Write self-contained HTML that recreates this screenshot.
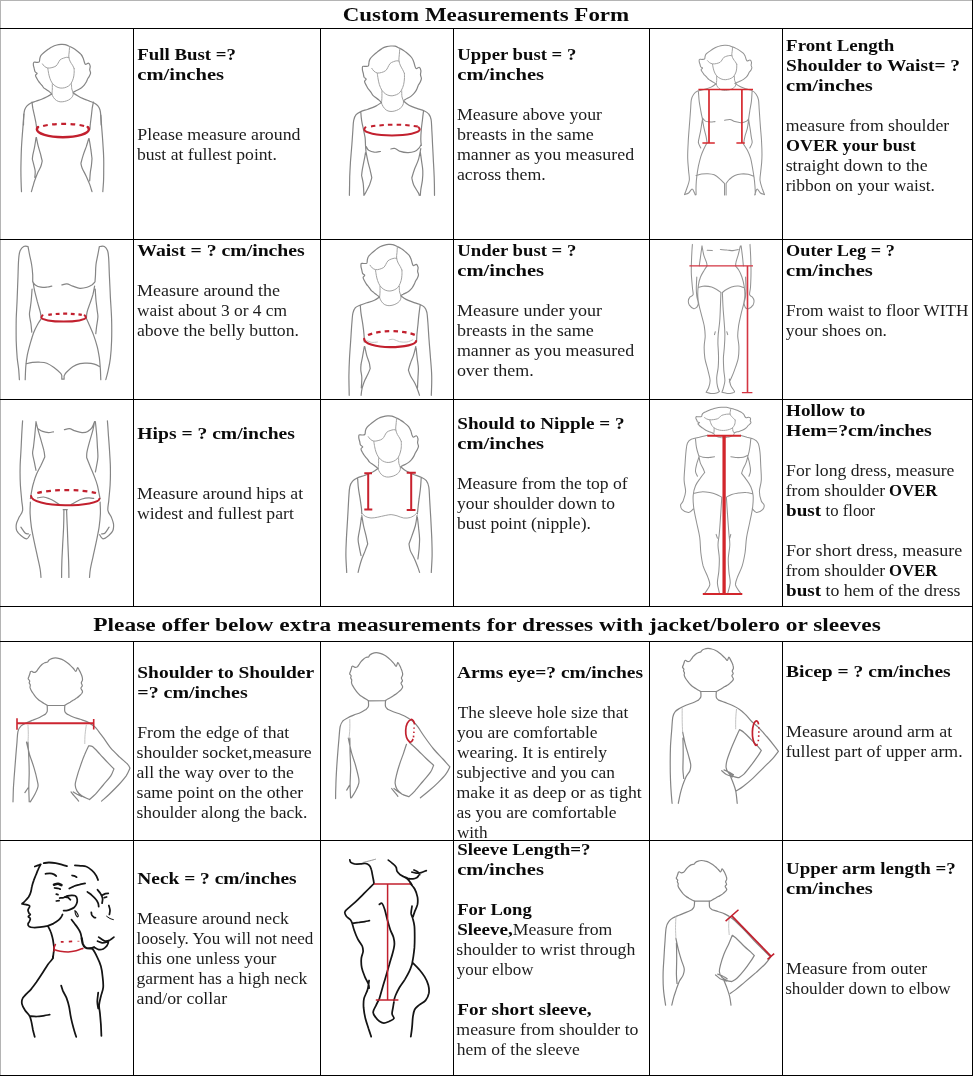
<!DOCTYPE html>
<html lang="en"><head><meta charset="utf-8"><title>Custom Measurements Form</title>
<style>
html,body{margin:0;padding:0;background:#fff;}
body{width:973px;height:1076px;overflow:hidden;}
svg{display:block;}
text{font-family:"Liberation Serif",serif;white-space:pre;}
.r{fill:#1c1c1c;font-weight:400;}
.b{fill:#0a0a0a;font-weight:700;}
.g{fill:none;stroke:#858585;stroke-width:1.2;stroke-linecap:round;stroke-linejoin:round;}
.g2{fill:none;stroke:#c4c4c4;stroke-width:1;stroke-linecap:round;stroke-linejoin:round;}
.g3{fill:none;stroke:#939393;stroke-width:1.05;stroke-linecap:round;stroke-linejoin:round;}
.gi{fill:none;stroke:#a2a2a2;stroke-width:1;stroke-linecap:round;stroke-linejoin:round;}
.k{fill:none;stroke:#141414;stroke-width:1.75;stroke-linecap:round;stroke-linejoin:round;}
.red{fill:none;stroke-linejoin:round;}
</style></head><body>
<svg width="973" height="1076" viewBox="0 0 973 1076">
<rect x="0" y="0" width="973" height="1076" fill="#ffffff"/>
<g stroke="#c2202e">
<path class="g" d="M51.9 93.9C51.5 93.6 50.4 92.6 49.5 91.9C48.6 91.2 47.5 90.5 46.6 89.8C45.6 89.1 44.4 88.5 43.7 87.8C43.0 87.1 42.7 86.3 42.2 85.7C41.7 85.1 41.4 84.8 40.8 84.1C40.3 83.4 39.4 82.5 38.8 81.6C38.1 80.7 37.5 79.7 37.0 78.7C36.4 77.7 35.5 76.3 35.5 75.4C35.5 74.6 37.2 74.0 37.1 73.4C37.1 72.8 35.6 72.6 35.1 71.7C34.6 70.9 34.5 69.5 34.2 68.4C34.0 67.4 33.5 66.2 33.4 65.2C33.3 64.1 33.2 62.8 33.7 62.3C34.1 61.8 35.4 62.4 36.3 62.3C37.2 62.2 38.6 62.5 39.2 61.9C39.8 61.3 39.5 59.6 39.8 58.6C40.0 57.6 40.2 56.7 40.8 55.7C41.5 54.7 42.5 53.8 43.7 52.8C44.9 51.8 46.4 50.6 47.8 49.5C49.3 48.5 50.8 47.4 52.3 46.7C53.8 45.9 55.4 45.4 56.9 45.0C58.3 44.6 59.6 44.5 61.0 44.4C62.3 44.4 63.7 44.3 65.1 44.6C66.4 44.9 67.8 45.6 69.2 46.3C70.6 46.9 71.9 47.5 73.3 48.3C74.7 49.1 76.1 50.2 77.4 51.2C78.7 52.2 80.2 53.3 81.1 54.5C82.1 55.6 82.6 56.9 83.2 58.2C83.7 59.5 84.0 61.3 84.4 62.3C84.8 63.3 84.9 64.2 85.6 64.3C86.3 64.5 87.8 62.8 88.5 63.1C89.3 63.4 90.0 64.9 90.2 66.0C90.4 67.1 89.7 68.5 89.7 69.7C89.8 70.8 90.6 71.9 90.6 73.0C90.5 74.1 89.8 75.3 89.3 76.3C88.9 77.2 88.2 77.8 87.7 78.7C87.2 79.6 87.0 80.6 86.5 81.6C85.9 82.6 85.2 83.9 84.4 84.9C83.6 85.9 82.5 86.9 81.5 87.8C80.5 88.6 79.3 89.3 78.2 89.8C77.2 90.4 76.2 90.6 75.4 91.1C74.5 91.5 73.6 92.1 73.3 92.3"/>
<path class="gi" d="M69.6 46.7C69.5 47.6 69.3 50.2 69.2 52.0C69.0 53.8 68.6 55.7 68.8 57.3C69.0 59.0 69.8 60.6 70.4 61.9C71.0 63.2 71.9 64.1 72.5 65.2C73.1 66.3 73.9 67.9 74.1 68.4M42.5 63.9C42.8 64.3 43.6 65.7 44.5 66.4C45.4 67.1 46.6 67.8 47.8 68.0C49.1 68.2 50.6 68.0 51.9 67.6C53.3 67.3 55.0 66.7 56.0 66.0C57.1 65.2 57.4 64.1 58.1 63.1C58.8 62.1 59.3 60.6 60.1 59.8C61.0 59.0 62.3 58.6 63.4 58.2C64.5 57.8 65.8 57.4 66.7 57.3C67.7 57.2 68.6 57.6 69.0 57.6M47.8 68.4C48.0 69.3 48.3 71.7 48.6 73.4C49.0 75.0 49.3 76.7 49.9 78.3C50.5 80.0 51.3 81.9 52.3 83.2C53.4 84.6 54.7 85.7 56.0 86.5C57.3 87.3 58.8 87.8 60.1 88.0C61.5 88.2 62.9 88.1 64.3 87.8C65.6 87.5 67.2 86.9 68.4 86.1C69.5 85.4 70.4 84.5 71.2 83.2C72.1 81.9 72.8 80.0 73.3 78.3C73.8 76.7 74.0 75.0 74.1 73.4C74.3 71.7 74.1 69.3 74.1 68.4M52.3 83.7C52.3 84.6 52.4 87.3 52.3 89.0C52.3 90.7 52.0 93.1 51.9 93.9M71.5 83.7C71.5 84.6 71.5 87.6 71.8 89.0C72.1 90.4 72.9 91.8 73.1 92.3M51.9 94.3C52.2 94.9 52.8 96.6 53.6 97.6C54.3 98.7 55.4 99.8 56.5 100.5C57.5 101.2 58.8 101.6 60.1 101.8C61.4 101.9 62.9 101.8 64.3 101.5C65.6 101.2 67.1 100.7 68.4 100.1C69.6 99.5 70.9 98.5 71.7 97.6C72.5 96.8 72.9 95.6 73.1 94.8C73.4 93.9 73.1 92.7 73.1 92.3"/>
<path class="g" d="M51.6 94.2C50.9 94.6 49.2 95.7 47.5 96.5C45.8 97.4 43.6 98.4 41.6 99.2C39.7 100.0 37.6 100.5 35.8 101.2C33.9 101.9 32.0 102.4 30.5 103.2C29.0 104.0 28.0 104.8 27.0 105.9C26.0 107.0 25.2 108.3 24.6 110.0C24.1 111.6 24.0 113.3 23.8 115.8C23.6 118.3 23.5 123.5 23.5 125.0M73.3 93.0C74.0 93.5 76.2 94.9 78.0 95.9C79.7 96.9 81.9 98.0 83.8 98.9C85.8 99.7 87.9 100.5 89.7 101.2C91.5 101.9 93.2 102.4 94.6 103.2C96.0 104.0 97.0 104.8 97.9 105.9C98.8 107.0 99.5 108.3 100.0 110.0C100.5 111.6 100.6 113.3 100.8 115.8C101.0 118.3 101.1 123.5 101.2 125.0"/>
<path class="g" d="M23.8 114.1C23.7 115.6 23.5 119.9 23.2 123.4C23.0 126.9 22.6 131.2 22.3 135.1C22.0 139.1 21.7 143.0 21.5 146.9C21.3 150.8 21.2 154.7 21.1 158.6C21.0 162.5 20.9 166.4 20.9 170.3C20.9 174.2 21.0 178.5 21.1 182.0C21.2 185.6 21.4 190.0 21.5 191.6M100.8 115.2C100.9 116.6 101.1 120.1 101.4 123.4C101.6 126.8 102.0 131.2 102.3 135.1C102.6 139.1 102.9 143.0 103.1 146.9C103.4 150.8 103.6 154.7 103.7 158.6C103.8 162.5 103.8 166.4 103.7 170.3C103.7 174.2 103.7 178.5 103.5 182.0C103.3 185.6 102.9 190.0 102.8 191.6M32.0 102.1C32.2 103.1 32.4 105.8 32.8 108.2C33.3 110.6 34.1 113.9 34.6 116.4C35.1 118.9 35.7 121.3 36.0 123.4C36.4 125.6 36.6 128.3 36.7 129.3M36.4 137.5C36.7 138.9 37.4 143.0 38.1 145.7C38.8 148.4 39.8 151.4 40.5 153.9C41.1 156.4 41.9 159.8 42.2 160.9M42.2 160.9C42.0 161.9 41.5 164.7 40.7 166.8C39.9 168.8 38.5 170.9 37.5 173.2C36.5 175.6 35.4 178.6 34.6 180.8C33.8 183.1 33.4 184.9 32.8 186.7C32.3 188.5 31.7 190.8 31.4 191.6M36.0 137.7C35.8 139.3 35.1 144.0 34.6 146.9C34.1 149.8 33.2 153.0 32.8 155.1C32.5 157.1 32.4 158.5 32.3 159.2M32.3 159.2C32.6 160.2 33.5 163.6 34.0 165.6C34.5 167.7 35.1 169.5 35.2 171.5C35.3 173.4 34.9 176.4 34.8 177.3M93.4 102.1C93.2 103.1 92.6 105.8 92.2 108.2C91.9 110.6 91.6 113.9 91.3 116.4C91.0 118.9 90.6 121.3 90.4 123.4C90.1 125.6 90.0 128.3 89.9 129.3M88.7 138.7C88.3 140.0 87.1 144.1 86.2 146.9C85.2 149.6 84.1 152.3 83.2 155.1C82.3 157.8 81.3 161.9 80.9 163.3M80.9 163.3C81.1 164.0 81.2 165.8 82.1 168.0C82.9 170.1 84.9 173.4 86.2 176.2C87.4 178.9 88.7 181.8 89.7 184.4C90.6 186.9 91.6 190.4 92.0 191.6M89.1 138.7C89.4 140.4 90.4 145.9 90.8 149.2C91.3 152.5 91.8 157.0 92.0 158.6M92.0 158.6C91.9 159.8 91.7 163.3 91.4 165.6C91.1 168.0 90.6 170.1 90.3 172.6C90.0 175.2 89.8 179.5 89.7 180.8"/>
<path class="red" stroke-linecap="round" stroke-width="2.5" d="M38.1 127.0Q36.9 128.0 36.9 129.3C36.9 133.7 48.5 137.2 62.9 137.2C77.3 137.2 88.9 133.7 88.9 129.3Q88.9 128.0 87.7 127.0"/>
<path class="red" stroke-width="2.2" stroke-linecap="butt" stroke-dasharray="4.77 4.39" d="M43.1 126.0C53.4 123.2 73.8 123.2 84.1 126.0"/>
<path class="g" d="M381.5 102.5C381.1 102.1 379.9 100.9 379.0 100.1C378.0 99.4 377.0 98.6 376.0 97.8C375.0 97.0 373.8 96.2 373.0 95.4C372.3 94.7 372.0 93.8 371.5 93.1C371.0 92.4 370.7 92.0 370.1 91.2C369.5 90.5 368.6 89.4 367.9 88.4C367.3 87.4 366.6 86.3 366.1 85.1C365.5 84.0 364.5 82.4 364.6 81.4C364.6 80.4 366.3 79.7 366.2 79.0C366.2 78.3 364.6 78.1 364.1 77.2C363.6 76.2 363.6 74.7 363.3 73.4C363.0 72.2 362.5 70.8 362.4 69.7C362.3 68.5 362.2 66.9 362.7 66.4C363.2 65.9 364.4 66.5 365.4 66.4C366.3 66.3 367.8 66.6 368.4 65.9C369.0 65.2 368.7 63.3 369.0 62.2C369.2 61.0 369.4 60.0 370.1 58.9C370.7 57.8 371.8 56.8 373.0 55.6C374.2 54.4 375.8 53.0 377.3 51.9C378.8 50.7 380.4 49.4 381.9 48.6C383.5 47.7 385.1 47.1 386.6 46.7C388.1 46.3 389.4 46.1 390.8 46.0C392.3 46.0 393.7 45.9 395.1 46.2C396.5 46.6 397.9 47.4 399.3 48.1C400.7 48.8 402.1 49.5 403.6 50.4C405.0 51.4 406.4 52.6 407.8 53.7C409.1 54.9 410.6 56.2 411.6 57.5C412.6 58.8 413.2 60.2 413.7 61.7C414.3 63.2 414.6 65.2 415.0 66.4C415.4 67.6 415.6 68.6 416.3 68.7C417.0 68.9 418.5 67.0 419.2 67.3C420.0 67.6 420.7 69.4 420.9 70.6C421.1 71.9 420.4 73.5 420.5 74.8C420.6 76.2 421.4 77.3 421.4 78.6C421.3 79.8 420.6 81.2 420.1 82.3C419.6 83.4 418.9 84.1 418.4 85.1C417.9 86.2 417.7 87.2 417.1 88.4C416.6 89.6 415.9 91.0 415.0 92.2C414.2 93.3 413.1 94.5 412.0 95.4C411.0 96.4 409.7 97.2 408.6 97.8C407.6 98.4 406.5 98.7 405.7 99.2C404.8 99.7 403.9 100.4 403.6 100.6"/>
<path class="gi" d="M399.7 48.6C399.7 49.6 399.5 52.6 399.3 54.7C399.2 56.7 398.7 58.9 398.9 60.8C399.1 62.6 400.0 64.4 400.6 65.9C401.2 67.4 402.1 68.4 402.7 69.7C403.3 70.9 404.1 72.8 404.4 73.4M371.8 68.3C372.1 68.7 373.0 70.3 373.9 71.1C374.8 71.9 376.0 72.7 377.3 73.0C378.5 73.2 380.1 72.9 381.5 72.5C382.9 72.1 384.7 71.5 385.7 70.6C386.8 69.7 387.2 68.5 387.9 67.3C388.6 66.2 389.1 64.5 390.0 63.6C390.9 62.6 392.2 62.2 393.4 61.7C394.5 61.2 395.8 60.9 396.8 60.8C397.7 60.7 398.7 61.0 399.1 61.1M377.3 73.4C377.4 74.4 377.8 77.2 378.1 79.0C378.5 80.9 378.8 82.8 379.4 84.7C380.0 86.5 380.9 88.7 381.9 90.3C383.0 91.9 384.4 93.1 385.7 94.0C387.1 95.0 388.6 95.5 390.0 95.7C391.4 96.0 392.8 95.8 394.2 95.4C395.6 95.1 397.3 94.4 398.5 93.6C399.7 92.7 400.6 91.8 401.4 90.3C402.3 88.8 403.1 86.5 403.6 84.7C404.0 82.8 404.3 80.9 404.4 79.0C404.6 77.2 404.4 74.4 404.4 73.4M381.9 90.8C381.9 91.8 382.0 94.9 381.9 96.9C381.9 98.8 381.6 101.6 381.5 102.5M401.7 90.8C401.7 91.8 401.7 95.2 402.0 96.9C402.3 98.5 403.2 100.0 403.4 100.6M381.5 103.0C381.8 103.6 382.4 105.5 383.2 106.7C384.0 107.9 385.0 109.2 386.2 110.0C387.3 110.8 388.6 111.2 390.0 111.4C391.3 111.6 392.8 111.4 394.2 111.1C395.6 110.8 397.2 110.2 398.5 109.5C399.7 108.8 401.0 107.7 401.9 106.7C402.7 105.7 403.1 104.4 403.4 103.4C403.6 102.4 403.4 101.1 403.4 100.6"/>
<path class="g" d="M381.3 102.6C380.4 103.2 378.0 105.0 375.8 106.1C373.6 107.2 370.4 108.3 367.9 109.2C365.4 110.1 362.8 110.7 360.8 111.6C358.8 112.5 357.2 113.3 356.1 114.7C354.9 116.2 354.2 117.8 353.7 120.3C353.2 122.8 353.2 125.5 352.9 129.7C352.6 134.0 352.2 140.3 351.8 145.5C351.4 150.8 350.9 156.1 350.5 161.3C350.2 166.6 349.9 171.5 349.7 177.1C349.6 182.8 349.5 192.2 349.4 195.3M403.9 101.3C404.7 102.0 406.8 104.1 409.0 105.3C411.1 106.5 414.3 107.5 416.8 108.4C419.3 109.3 422.0 109.9 424.0 110.8C425.9 111.7 427.5 112.5 428.7 114.0C429.9 115.4 430.5 116.8 431.1 119.5C431.6 122.1 431.6 125.4 431.8 129.7C432.1 134.1 432.4 140.3 432.6 145.5C432.9 150.8 433.2 156.1 433.4 161.3C433.7 166.6 434.0 171.5 434.2 177.1C434.4 182.8 434.5 192.2 434.5 195.3M360.8 111.9C360.9 113.3 361.1 117.3 361.6 120.3C362.0 123.2 362.9 126.8 363.5 129.7C364.1 132.6 364.7 135.0 365.1 137.6C365.4 140.3 365.4 143.2 365.5 145.5C365.7 147.9 365.9 150.8 366.0 151.8M366.0 146.3C366.4 147.0 367.3 149.3 368.7 150.3C370.1 151.2 372.2 152.0 374.2 152.2C376.2 152.4 379.5 151.6 380.5 151.5M390.8 149.0C391.5 148.9 393.3 148.0 394.7 148.4C396.2 148.7 397.4 150.3 399.5 151.1C401.6 151.8 404.9 152.6 407.4 152.6C409.9 152.7 412.5 152.3 414.5 151.5C416.5 150.7 418.1 149.2 419.2 147.9C420.3 146.6 420.9 144.6 421.3 144.0M423.5 111.1C423.3 112.6 422.7 117.2 422.4 120.3C422.0 123.4 421.5 126.6 421.3 129.7C421.0 132.9 420.8 136.6 420.8 139.2C420.8 141.8 421.2 144.5 421.3 145.5M366.0 151.8C366.3 153.4 367.2 158.2 367.9 161.3C368.6 164.5 369.6 168.0 370.3 170.8C370.9 173.6 371.6 176.7 371.8 177.9M371.8 177.9C371.4 179.1 370.5 182.5 369.5 185.0C368.4 187.5 366.4 191.2 365.5 192.9C364.6 194.6 364.2 194.9 363.9 195.3M365.5 152.6C365.3 154.1 364.5 158.6 363.9 161.3C363.4 164.1 362.8 166.8 362.4 169.2C362.0 171.6 361.7 174.5 361.6 175.5M361.6 175.5C361.8 176.8 362.8 180.1 363.2 183.4C363.6 186.7 363.8 193.3 363.9 195.3M420.8 148.7C420.4 150.5 419.5 156.3 418.4 159.7C417.4 163.2 415.6 166.2 414.5 169.2C413.4 172.2 412.2 176.5 411.8 177.9M411.8 177.9C412.1 179.1 412.6 182.5 413.7 185.0C414.8 187.5 417.5 191.2 418.4 192.9C419.3 194.6 419.1 194.9 419.2 195.3M420.3 151.8C420.5 153.4 421.2 158.2 421.6 161.3C422.0 164.5 422.7 167.6 422.8 170.8C423.0 174.0 422.7 177.1 422.4 180.3C422.0 183.4 421.1 187.2 420.8 189.7C420.5 192.2 420.4 194.4 420.3 195.3"/>
<path class="red" stroke-linecap="round" stroke-width="2.0" d="M365.5 127.3Q364.3 128.3 364.3 129.6C364.3 132.8 376.7 135.4 392.0 135.4C407.3 135.4 419.7 132.8 419.7 129.6Q419.7 128.3 418.5 127.3"/>
<path class="red" stroke-width="2.0" stroke-linecap="butt" stroke-dasharray="4.46 4.10" d="M371.0 126.6C382.7 124.1 406.1 124.1 417.8 126.6"/>
<path class="g3" d="M716.3 84.3C715.9 84.0 714.8 83.2 714.0 82.6C713.2 82.1 712.2 81.6 711.3 81.0C710.5 80.5 709.4 80.0 708.7 79.4C708.0 78.9 707.8 78.3 707.3 77.8C706.9 77.3 706.6 77.0 706.0 76.5C705.5 76.0 704.7 75.3 704.1 74.6C703.6 73.9 703.0 73.1 702.5 72.3C702.0 71.5 701.1 70.4 701.1 69.7C701.1 69.0 702.7 68.6 702.6 68.1C702.6 67.6 701.2 67.5 700.7 66.8C700.3 66.2 700.2 65.1 700.0 64.2C699.7 63.4 699.3 62.4 699.2 61.6C699.1 60.8 699.0 59.7 699.4 59.4C699.9 59.0 701.0 59.4 701.9 59.4C702.7 59.3 704.0 59.5 704.5 59.0C705.1 58.6 704.8 57.3 705.1 56.5C705.3 55.6 705.4 54.9 706.0 54.2C706.7 53.4 707.6 52.7 708.7 51.9C709.8 51.1 711.2 50.2 712.5 49.3C713.8 48.5 715.3 47.7 716.7 47.1C718.0 46.5 719.5 46.1 720.8 45.8C722.2 45.5 723.4 45.4 724.6 45.3C725.9 45.3 727.1 45.2 728.4 45.5C729.7 45.7 730.9 46.3 732.2 46.8C733.4 47.2 734.7 47.7 736.0 48.4C737.2 49.0 738.6 49.8 739.8 50.6C741.0 51.4 742.3 52.3 743.2 53.2C744.1 54.1 744.6 55.1 745.1 56.1C745.6 57.2 745.8 58.6 746.2 59.4C746.6 60.2 746.7 60.9 747.3 61.0C748.0 61.1 749.3 59.8 750.0 60.0C750.7 60.2 751.3 61.4 751.5 62.3C751.7 63.1 751.1 64.3 751.1 65.2C751.2 66.1 751.9 66.9 751.9 67.8C751.8 68.6 751.2 69.6 750.8 70.4C750.3 71.1 749.7 71.6 749.2 72.3C748.8 73.0 748.6 73.8 748.1 74.6C747.6 75.4 747.0 76.3 746.2 77.2C745.4 78.0 744.5 78.8 743.5 79.4C742.6 80.1 741.5 80.6 740.5 81.0C739.6 81.5 738.6 81.7 737.9 82.0C737.1 82.3 736.3 82.8 736.0 83.0"/>
<path class="gi" d="M732.6 47.1C732.5 47.8 732.3 49.9 732.2 51.3C732.1 52.7 731.6 54.2 731.8 55.5C732.0 56.8 732.8 58.0 733.3 59.0C733.9 60.1 734.6 60.8 735.2 61.6C735.8 62.5 736.5 63.8 736.7 64.2M707.6 60.7C707.9 61.0 708.6 62.1 709.5 62.6C710.3 63.1 711.4 63.7 712.5 63.9C713.6 64.1 715.0 63.8 716.3 63.6C717.5 63.3 719.1 62.9 720.1 62.3C721.0 61.7 721.3 60.8 722.0 60.0C722.6 59.2 723.0 58.1 723.8 57.4C724.7 56.8 725.9 56.5 726.9 56.1C727.9 55.8 729.1 55.6 729.9 55.5C730.8 55.4 731.7 55.7 732.0 55.7M712.5 64.2C712.6 64.9 712.9 66.8 713.2 68.1C713.6 69.4 713.8 70.7 714.4 72.0C714.9 73.3 715.7 74.8 716.7 75.9C717.6 76.9 718.9 77.8 720.1 78.4C721.3 79.1 722.6 79.5 723.8 79.6C725.1 79.8 726.4 79.7 727.6 79.4C728.9 79.2 730.4 78.7 731.4 78.1C732.5 77.5 733.3 76.9 734.1 75.9C734.8 74.8 735.5 73.3 736.0 72.0C736.4 70.7 736.6 69.4 736.7 68.1C736.9 66.8 736.7 64.9 736.7 64.2M716.7 76.2C716.7 76.9 716.7 79.0 716.7 80.4C716.6 81.7 716.3 83.6 716.3 84.3M734.3 76.2C734.4 76.9 734.4 79.3 734.6 80.4C734.9 81.5 735.6 82.5 735.8 83.0M716.3 84.6C716.5 85.0 717.1 86.4 717.8 87.2C718.5 88.0 719.4 88.9 720.4 89.4C721.5 90.0 722.6 90.3 723.8 90.4C725.0 90.5 726.4 90.4 727.6 90.2C728.9 90.0 730.3 89.6 731.4 89.1C732.6 88.6 733.7 87.9 734.5 87.2C735.2 86.5 735.6 85.6 735.8 84.9C736.0 84.2 735.8 83.3 735.8 83.0"/>
<path class="g3" d="M715.8 84.0C715.0 84.5 713.0 86.2 711.1 87.1C709.1 88.1 706.2 88.8 704.0 89.5C701.7 90.2 699.4 90.3 697.6 91.1C695.9 91.9 694.7 92.8 693.7 94.2C692.6 95.7 691.9 97.0 691.3 99.8C690.8 102.5 690.9 106.4 690.5 110.8C690.2 115.3 689.7 121.4 689.3 126.6C688.9 131.9 688.4 137.2 688.2 142.4C687.9 147.7 687.6 153.5 687.7 158.2C687.8 163.0 688.4 167.2 688.6 170.9C688.9 174.5 689.6 177.3 689.3 180.3C688.9 183.4 687.4 186.7 686.6 189.0C685.8 191.4 684.9 193.6 684.5 194.6M684.5 194.6C685.2 194.3 687.4 193.9 688.6 193.0C689.9 192.1 691.1 189.0 692.1 189.0C693.1 189.0 694.0 192.0 694.5 193.0C695.0 194.0 695.1 194.6 695.3 194.9M734.8 83.2C735.6 83.7 737.7 85.4 739.5 86.3C741.4 87.3 743.7 88.0 745.8 88.7C747.9 89.4 750.4 89.7 752.1 90.6C753.9 91.5 755.0 92.7 756.1 94.2C757.2 95.8 757.9 97.0 758.5 99.8C759.0 102.5 758.9 106.4 759.3 110.8C759.6 115.3 760.0 121.4 760.4 126.6C760.8 131.9 761.4 137.2 761.6 142.4C761.9 147.7 762.1 153.5 761.9 158.2C761.8 163.0 761.2 167.2 760.8 170.9C760.5 174.5 759.8 177.3 760.0 180.3C760.3 183.4 761.7 186.7 762.4 189.0C763.2 191.4 764.1 193.6 764.5 194.6M764.5 194.6C763.8 194.3 761.6 193.9 760.4 193.0C759.2 192.1 758.0 189.0 757.2 189.0C756.4 189.0 755.7 192.0 755.3 193.0C754.9 194.0 754.8 194.6 754.7 194.9M698.4 91.6C698.6 93.2 698.8 98.1 699.2 101.4C699.6 104.6 700.3 107.9 700.8 110.8C701.3 113.7 702.1 117.4 702.4 118.7M702.4 118.7C702.6 120.3 703.4 125.3 704.0 128.2C704.6 131.1 705.5 133.7 706.0 136.1C706.5 138.5 706.9 141.6 707.1 142.7M707.1 142.7C706.6 143.7 705.0 146.4 704.0 148.7C702.9 151.1 701.7 153.7 700.8 156.6C699.9 159.5 699.1 163.0 698.4 166.1C697.8 169.3 697.3 172.4 696.9 175.6C696.5 178.8 696.2 181.9 696.1 185.1C695.9 188.2 696.1 193.0 696.1 194.6M702.4 119.5C702.1 121.2 701.3 126.8 700.8 129.8C700.3 132.8 699.6 135.5 699.2 137.7C698.8 139.8 698.2 141.0 698.4 142.7C698.7 144.5 700.4 147.1 700.8 148.0M752.1 91.1C752.0 92.8 751.8 98.1 751.4 101.4C751.0 104.6 750.2 107.9 749.8 110.8C749.3 113.7 748.9 117.4 748.7 118.7M748.7 118.7C748.5 120.3 748.0 125.3 747.4 128.2C746.8 131.1 745.7 133.5 745.0 136.1C744.4 138.7 743.7 142.7 743.5 144.0M743.5 144.0C744.1 145.1 746.2 148.0 747.4 150.3C748.6 152.7 749.7 155.3 750.6 158.2C751.4 161.1 751.9 164.5 752.5 167.7C753.0 170.9 753.6 174.0 754.0 177.2C754.5 180.3 754.8 183.8 755.0 186.7C755.2 189.6 755.3 193.2 755.3 194.6M748.7 119.5C748.9 121.2 749.8 126.8 750.3 129.8C750.7 132.8 751.0 135.5 751.4 137.7C751.7 139.8 752.4 141.0 752.1 142.7C751.9 144.5 750.2 147.1 749.8 148.0M702.4 117.9C702.9 118.5 704.2 120.4 705.5 121.1C706.9 121.8 708.7 121.8 710.3 121.9C711.9 122.0 714.2 121.6 715.0 121.6M724.5 120.3C725.4 120.2 728.3 119.3 730.0 119.5C731.7 119.7 732.9 121.0 734.8 121.6C736.6 122.1 739.1 122.8 741.1 122.7C743.1 122.6 745.4 121.8 746.6 121.1C747.9 120.4 748.3 119.1 748.7 118.7M696.1 175.6C697.0 175.3 699.6 174.3 701.6 174.0C703.6 173.7 705.8 173.6 707.9 173.7C710.0 173.8 712.3 174.0 714.2 174.8C716.2 175.7 718.1 177.3 719.8 178.8C721.5 180.2 723.7 182.7 724.5 183.5M726.1 183.5C726.6 182.8 727.8 180.9 729.2 179.5C730.7 178.2 732.8 176.5 734.8 175.6C736.7 174.7 738.9 174.2 741.1 174.0C743.3 173.8 746.0 173.9 748.2 174.3C750.4 174.7 753.1 176.0 754.0 176.4M724.5 183.5L724.5 194.9M726.1 183.5L726.1 194.9"/>
<path class="red" stroke="#d6282e" stroke-width="1.7" d="M698.4 89.5H753M709 89.5V143M741.9 89.5V143M702.4 143H714.8M736.4 143H744.8"/>
<path class="g" d="M28.0 246.5C27.3 246.5 25.0 245.8 23.7 246.5C22.4 247.2 21.0 248.8 20.1 250.8C19.3 252.8 19.0 254.5 18.7 258.7C18.3 262.9 18.2 269.5 18.0 276.0C17.7 282.5 17.5 290.4 17.2 297.6C17.0 304.8 16.4 312.0 16.2 319.2C16.1 326.4 16.1 334.4 16.2 340.8C16.4 347.3 16.8 353.3 17.2 358.1C17.7 362.9 18.3 366.0 18.7 369.6C19.0 373.2 19.3 378.0 19.4 379.7M28.0 246.5C28.3 247.8 28.9 251.4 29.5 254.4C30.1 257.4 31.1 261.1 31.6 264.5C32.2 267.8 32.5 271.7 32.7 274.6C32.8 277.5 32.7 280.6 32.7 281.8M32.7 281.8C33.1 282.3 33.9 284.0 35.3 284.9C36.6 285.9 39.0 286.9 41.0 287.2C43.1 287.6 45.7 287.2 47.5 287.0C49.3 286.8 51.1 286.2 51.8 286.1M61.9 284.9C62.7 284.8 65.1 283.7 66.9 283.9C68.7 284.1 70.5 285.4 72.7 286.1C74.9 286.8 77.5 288.1 79.9 288.3C82.3 288.4 85.1 287.8 87.1 287.2C89.1 286.6 90.8 285.6 92.2 284.7C93.5 283.7 94.6 282.3 95.0 281.8M33.1 281.8C33.3 283.2 33.8 287.1 34.5 290.4C35.3 293.8 36.5 298.3 37.4 301.9C38.4 305.5 39.6 309.3 40.3 312.0C40.9 314.8 41.1 317.4 41.3 318.5M41.3 318.5C40.8 319.3 39.4 321.3 38.1 323.5C36.9 325.8 35.1 328.8 33.8 332.2C32.5 335.6 31.3 339.9 30.2 343.7C29.1 347.6 28.0 351.6 27.3 355.2C26.6 358.8 26.2 361.2 25.9 365.3C25.5 369.4 25.3 377.3 25.2 379.7M32.1 289.0C31.9 290.9 31.6 297.1 31.2 300.5C30.9 303.9 30.4 306.7 30.1 309.1C29.8 311.5 29.3 312.5 29.5 314.9C29.6 317.3 30.5 320.7 30.9 323.5C31.3 326.4 31.6 330.8 31.8 332.2M100.1 246.5C100.8 246.5 103.1 245.8 104.4 246.5C105.6 247.2 106.8 248.8 107.6 250.8C108.3 252.8 108.4 254.5 108.7 258.7C109.0 262.9 109.1 269.5 109.4 276.0C109.7 282.5 110.1 290.4 110.4 297.6C110.8 304.8 111.4 312.0 111.6 319.2C111.8 326.4 111.8 334.4 111.6 340.8C111.4 347.3 111.0 353.1 110.4 358.1C109.8 363.2 108.8 367.5 108.0 371.1C107.2 374.7 106.2 378.3 105.8 379.7M99.4 246.5C99.1 247.8 98.5 251.4 97.9 254.4C97.4 257.4 96.4 261.1 96.0 264.5C95.6 267.8 95.6 271.7 95.5 274.6C95.3 277.5 95.1 280.6 95.0 281.8M94.6 286.1C94.3 287.5 93.6 291.9 92.9 294.7C92.1 297.6 91.0 300.5 90.0 303.4C89.0 306.3 87.7 309.5 87.1 312.0C86.5 314.5 86.5 317.4 86.4 318.5M86.4 318.5C86.9 319.6 88.1 322.2 89.3 325.0C90.5 327.8 92.3 331.5 93.6 335.1C94.9 338.7 96.2 342.8 97.2 346.6C98.2 350.4 98.8 354.3 99.4 358.1C99.9 362.0 100.1 366.0 100.4 369.6C100.6 373.2 100.7 378.0 100.8 379.7M95.2 289.0C95.3 290.9 95.7 296.9 96.0 300.5C96.4 304.1 96.9 307.8 97.2 310.6C97.5 313.3 98.0 314.4 97.9 317.1C97.8 319.7 97.0 323.7 96.6 326.4C96.3 329.2 95.9 332.4 95.8 333.6M25.9 363.9C27.0 363.6 30.1 362.7 32.4 362.4C34.7 362.2 37.2 362.0 39.6 362.2C42.0 362.3 44.4 362.3 46.8 363.2C49.2 364.1 51.7 365.8 54.0 367.5C56.3 369.2 59.1 371.8 60.5 373.2C61.8 374.7 61.7 375.6 61.9 376.1M64.1 376.1C64.4 375.5 64.8 374.1 66.2 372.5C67.7 371.0 70.4 368.3 72.7 366.8C75.0 365.3 77.5 364.2 79.9 363.6C82.3 363.0 84.7 363.1 87.1 363.2C89.5 363.3 92.2 363.6 94.3 364.2C96.5 364.8 99.1 366.3 100.1 366.8M61.8 376.1L61.8 379.2L64.1 379.2L64.1 376.1"/>
<path class="red" stroke-linecap="round" stroke-width="2.0" d="M42.6 315.3Q41.4 316.3 41.4 317.6C41.4 319.8 51.3 321.6 63.6 321.6C75.9 321.6 85.8 319.8 85.8 317.6Q85.8 316.3 84.6 315.3"/>
<path class="red" stroke-width="2.2" stroke-linecap="butt" stroke-dasharray="3.90 3.59" d="M48.3 314.9C56.7 313.3 73.4 313.3 81.8 314.9"/>
<path class="g" d="M379.6 297.3C379.2 296.9 378.0 295.8 377.1 295.1C376.2 294.3 375.2 293.6 374.2 292.9C373.3 292.1 372.1 291.4 371.4 290.7C370.6 289.9 370.3 289.1 369.9 288.5C369.4 287.8 369.0 287.5 368.5 286.7C367.9 286.0 367.0 285.1 366.4 284.1C365.7 283.1 365.1 282.1 364.6 281.0C364.0 279.9 363.1 278.5 363.1 277.5C363.1 276.6 364.8 276.0 364.7 275.3C364.7 274.7 363.2 274.5 362.7 273.6C362.2 272.7 362.1 271.2 361.8 270.1C361.6 268.9 361.1 267.6 361.0 266.6C360.9 265.5 360.8 264.0 361.3 263.5C361.8 263.0 363.0 263.6 363.9 263.5C364.8 263.4 366.2 263.7 366.8 263.1C367.4 262.4 367.1 260.6 367.4 259.5C367.7 258.4 367.8 257.5 368.5 256.5C369.1 255.4 370.2 254.5 371.4 253.4C372.5 252.3 374.0 251.0 375.5 249.9C376.9 248.8 378.5 247.6 380.0 246.8C381.6 246.0 383.1 245.5 384.6 245.1C386.0 244.7 387.3 244.5 388.7 244.4C390.1 244.4 391.5 244.3 392.8 244.6C394.2 244.9 395.6 245.7 397.0 246.4C398.4 247.0 399.7 247.7 401.1 248.6C402.5 249.4 403.9 250.5 405.2 251.6C406.5 252.7 408.0 253.9 409.0 255.2C409.9 256.4 410.5 257.7 411.0 259.1C411.6 260.5 411.9 262.4 412.3 263.5C412.7 264.6 412.8 265.5 413.5 265.7C414.2 265.8 415.6 264.1 416.4 264.4C417.2 264.7 417.8 266.3 418.1 267.4C418.3 268.6 417.6 270.1 417.6 271.4C417.7 272.6 418.5 273.7 418.5 274.9C418.4 276.1 417.7 277.4 417.2 278.4C416.7 279.4 416.1 280.1 415.6 281.0C415.1 282.0 414.9 283.0 414.3 284.1C413.8 285.2 413.1 286.5 412.3 287.6C411.4 288.7 410.4 289.8 409.4 290.7C408.3 291.6 407.1 292.3 406.1 292.9C405.0 293.5 404.0 293.7 403.2 294.2C402.4 294.6 401.5 295.3 401.1 295.5"/>
<path class="gi" d="M397.4 246.8C397.3 247.8 397.1 250.6 397.0 252.5C396.8 254.4 396.4 256.5 396.6 258.2C396.8 260.0 397.6 261.7 398.2 263.1C398.8 264.4 399.7 265.4 400.3 266.6C400.9 267.7 401.7 269.5 401.9 270.1M370.1 265.2C370.5 265.7 371.3 267.1 372.2 267.9C373.1 268.6 374.3 269.4 375.5 269.6C376.7 269.8 378.2 269.6 379.6 269.2C381.0 268.8 382.7 268.2 383.8 267.4C384.8 266.6 385.1 265.5 385.8 264.4C386.5 263.3 387.0 261.7 387.9 260.9C388.8 260.0 390.1 259.5 391.2 259.1C392.3 258.7 393.6 258.3 394.5 258.2C395.4 258.1 396.4 258.4 396.8 258.5M375.5 270.1C375.6 270.9 376.0 273.6 376.3 275.3C376.7 277.1 376.9 278.8 377.6 280.6C378.2 282.3 379.0 284.4 380.0 285.8C381.1 287.3 382.4 288.5 383.8 289.4C385.1 290.2 386.5 290.7 387.9 290.9C389.3 291.2 390.6 291.0 392.0 290.7C393.4 290.3 395.0 289.7 396.1 288.9C397.3 288.1 398.2 287.2 399.0 285.8C399.9 284.5 400.6 282.3 401.1 280.6C401.6 278.8 401.8 277.1 401.9 275.3C402.1 273.6 401.9 270.9 401.9 270.1M380.0 286.3C380.0 287.2 380.1 290.2 380.0 292.0C380.0 293.8 379.7 296.4 379.6 297.3M399.3 286.3C399.3 287.2 399.3 290.5 399.6 292.0C399.9 293.5 400.7 294.9 400.9 295.5M379.6 297.7C379.9 298.3 380.5 300.1 381.3 301.2C382.0 302.3 383.1 303.5 384.2 304.3C385.3 305.0 386.6 305.4 387.9 305.6C389.2 305.8 390.6 305.6 392.0 305.3C393.4 305.0 394.9 304.5 396.1 303.8C397.4 303.1 398.7 302.2 399.5 301.2C400.3 300.3 400.7 299.1 400.9 298.1C401.2 297.2 400.9 295.9 400.9 295.5"/>
<path class="g" d="M379.5 296.9C378.7 297.5 376.5 299.3 374.4 300.3C372.3 301.3 369.3 302.1 367.0 302.8C364.6 303.6 362.2 304.2 360.3 305.1C358.4 305.9 356.7 306.4 355.4 307.7C354.2 309.1 353.5 310.7 352.9 313.2C352.3 315.7 352.3 318.2 351.9 322.8C351.5 327.4 351.1 334.6 350.7 340.5C350.3 346.5 349.8 352.4 349.5 358.3C349.2 364.2 349.0 369.9 348.9 376.0C348.9 382.2 349.2 392.1 349.2 395.3M401.0 295.9C401.8 296.5 404.2 298.4 406.1 299.4C408.1 300.5 410.6 301.3 412.8 302.1C415.0 302.9 417.5 303.5 419.5 304.3C421.4 305.2 423.4 305.9 424.6 307.3C425.9 308.6 426.3 309.9 426.9 312.5C427.4 315.0 427.5 318.1 427.9 322.8C428.3 327.5 428.6 334.6 429.1 340.5C429.5 346.5 430.1 352.4 430.5 358.3C431.0 364.2 431.6 369.9 431.7 376.0C431.9 382.2 431.4 392.1 431.3 395.3M360.3 305.4C360.4 306.8 360.6 310.8 361.1 313.9C361.5 317.1 362.3 320.8 362.8 324.3C363.3 327.7 363.8 331.7 364.0 334.6C364.3 337.6 364.3 340.8 364.3 342.0M420.2 304.8C420.0 306.3 419.4 310.7 419.0 313.9C418.6 317.2 418.3 320.8 418.0 324.3C417.6 327.7 417.2 331.7 416.9 334.6C416.7 337.6 416.6 340.8 416.5 342.0M364.7 346.5C365.1 347.9 365.9 352.6 366.7 355.3C367.4 358.0 368.6 360.5 369.2 362.7C369.8 364.9 370.0 367.7 370.2 368.6M370.2 368.6C369.8 369.6 368.6 372.6 367.7 374.6C366.8 376.5 365.7 378.3 364.7 380.5C363.8 382.7 362.9 385.4 362.2 387.9C361.6 390.3 361.2 394.0 361.1 395.3M364.3 346.5C364.0 348.2 363.1 353.9 362.5 356.8C362.0 359.8 361.3 362.0 361.1 364.2C360.8 366.4 360.6 367.9 360.8 370.1C360.9 372.3 361.7 374.6 361.8 377.5C361.9 380.5 361.4 386.1 361.3 387.9M415.8 346.5C415.4 347.9 414.4 352.6 413.5 355.3C412.7 358.0 411.4 360.3 410.6 362.7C409.7 365.2 408.7 368.9 408.4 370.1M408.4 370.1C408.7 371.1 409.5 373.8 410.6 376.0C411.7 378.3 413.8 381.0 415.0 383.4C416.3 385.9 417.2 388.8 418.0 390.8C418.7 392.8 419.2 394.5 419.5 395.3M416.1 347.9C416.3 349.7 416.8 354.8 417.2 358.3C417.6 361.7 418.3 365.4 418.4 368.6C418.5 371.8 418.1 374.3 418.0 377.5C417.8 380.7 417.6 386.1 417.5 387.9"/>
<path class="g2" d="M367.0 340.5C367.7 340.8 369.7 342.1 371.4 342.3C373.1 342.6 376.3 342.1 377.3 342.0M389.1 339.8C389.9 339.7 391.9 339.0 393.6 339.4C395.3 339.7 397.3 341.3 399.5 341.7C401.7 342.2 404.7 342.3 406.9 342.0C409.1 341.7 411.8 340.2 412.8 339.8"/>
<path class="red" stroke-linecap="round" stroke-width="2.2" d="M364.2 338.9C364.2 343.5 375.8 347.2 390.1 347.2C404.5 347.2 416.1 344.5 416.1 341.1"/>
<path class="red" stroke-width="2.3" stroke-linecap="butt" stroke-dasharray="4.49 4.13" d="M368.0 335.0C379.8 329.9 403.3 329.9 415.1 335.0"/>
<path class="g3" d="M692.4 244.4C692.2 246.7 691.8 253.1 691.6 257.7C691.4 262.4 691.2 267.6 691.3 272.5C691.4 277.5 692.1 283.6 692.4 287.3C692.6 291.0 693.5 293.1 693.1 294.7C692.7 296.3 690.9 295.9 690.1 296.9C689.3 297.9 688.5 299.3 688.4 300.6C688.2 302.0 688.5 303.7 689.4 305.1C690.3 306.4 692.6 308.4 693.8 308.7C695.1 309.1 696.3 307.5 696.8 307.3M702.0 245.9C701.7 248.1 700.6 255.9 700.2 259.2C699.7 262.5 699.4 264.8 699.3 265.9M696.8 277.0C696.7 278.9 696.3 285.6 696.3 288.8C696.3 292.0 696.5 293.7 696.8 296.2C697.1 298.6 698.3 301.7 698.3 303.6C698.3 305.4 697.0 306.7 696.8 307.3M702.0 245.9C702.3 247.4 703.0 252.1 703.7 254.8C704.5 257.5 705.8 260.3 706.4 262.2C707.0 264.0 707.0 265.3 707.1 265.9M707.1 265.9C706.6 266.6 705.3 268.5 704.2 270.3C703.1 272.2 701.5 274.4 700.5 277.0C699.5 279.5 698.7 282.6 698.3 285.8C697.8 289.0 697.7 293.0 697.8 296.2C697.9 299.4 698.4 302.1 699.0 305.1C699.6 308.0 700.4 310.5 701.2 313.9C702.1 317.4 703.5 322.1 704.2 325.7C704.8 329.4 705.2 332.6 705.2 336.1C705.2 339.5 704.2 342.7 704.2 346.4C704.1 350.1 704.3 354.3 704.9 358.3C705.5 362.2 707.0 366.4 707.9 370.1C708.7 373.8 710.0 377.5 710.1 380.4C710.2 383.4 709.3 385.9 708.6 387.8C707.9 389.8 706.5 391.5 706.1 392.3M706.1 392.3C706.9 392.5 709.1 393.3 710.8 393.5C712.6 393.6 715.3 393.3 716.7 393.0C718.2 392.7 719.0 391.8 719.4 391.5M720.9 292.5C720.8 294.8 720.6 301.7 720.4 306.5C720.2 311.3 720.1 316.6 719.7 321.3C719.3 326.0 718.5 330.9 718.2 334.6C717.9 338.3 717.9 340.0 717.9 343.5C718.0 346.9 718.5 351.4 718.5 355.3C718.6 359.3 718.5 363.4 718.2 367.1C717.9 370.8 716.9 374.3 716.7 377.5C716.6 380.7 717.0 384.0 717.5 386.4C717.9 388.7 719.1 390.7 719.4 391.5M722.4 292.5C722.5 294.8 722.7 301.7 723.0 306.5C723.2 311.3 723.8 316.6 724.1 321.3C724.5 326.0 724.8 330.4 724.9 334.6C724.9 338.8 724.7 342.5 724.4 346.4C724.2 350.4 723.5 354.3 723.4 358.3C723.3 362.2 723.6 366.4 723.8 370.1C724.1 373.8 724.9 377.5 724.9 380.4C724.8 383.4 723.9 385.9 723.4 387.8C722.9 389.8 722.2 391.5 721.9 392.3M721.9 392.3C722.8 392.5 725.4 393.3 727.1 393.5C728.8 393.6 731.0 393.3 732.3 393.0C733.5 392.7 734.7 392.8 734.5 391.5C734.2 390.3 731.7 387.7 730.8 385.6C729.9 383.5 729.6 380.1 729.3 379.0M740.4 245.9C740.0 247.4 738.9 252.1 738.2 254.8C737.4 257.5 736.4 260.3 736.0 262.2C735.5 264.1 735.7 265.6 735.7 266.3M735.7 266.3C736.2 267.0 737.9 268.5 738.9 270.3C740.0 272.1 741.0 274.4 741.9 277.0C742.7 279.5 743.6 282.6 744.1 285.8C744.6 289.0 745.0 293.0 744.8 296.2C744.7 299.4 744.0 302.1 743.4 305.1C742.7 308.0 741.9 310.5 741.1 313.9C740.3 317.4 739.2 322.1 738.6 325.7C738.1 329.4 737.7 332.6 737.7 336.1C737.8 339.5 738.8 342.7 738.9 346.4C739.0 350.1 738.9 354.3 738.2 358.3C737.4 362.2 735.7 366.7 734.5 370.1C733.3 373.6 731.7 377.0 730.8 379.0C729.9 380.9 729.6 381.4 729.3 381.9M741.1 245.9C741.4 247.9 742.2 254.4 742.6 257.7C743.0 261.1 743.2 264.5 743.4 265.9M745.6 277.0C745.6 278.9 746.0 285.6 746.0 288.8C746.0 292.0 745.9 293.7 745.6 296.2C745.3 298.6 744.1 301.6 744.1 303.6C744.1 305.5 745.3 307.3 745.6 308.0M750.0 244.4C750.1 246.7 750.6 253.1 750.7 257.7C750.9 262.4 751.1 267.6 751.0 272.5C751.0 277.5 750.7 283.6 750.5 287.3C750.2 291.0 749.3 293.1 749.6 294.7C749.9 296.3 751.5 295.9 752.2 296.9C753.0 297.9 753.9 299.3 754.0 300.6C754.1 302.0 753.9 303.7 753.0 305.1C752.1 306.4 749.8 308.3 748.5 308.7C747.3 309.2 746.1 308.1 745.6 308.0M698.7 287.3C699.7 287.1 702.8 286.2 704.9 286.1C707.1 286.1 709.6 286.4 711.6 287.0C713.5 287.6 715.2 288.6 716.7 289.5C718.3 290.4 720.2 292.0 720.9 292.5M722.4 292.5C723.0 292.0 724.8 290.4 726.4 289.5C727.9 288.6 729.6 287.6 731.5 287.0C733.5 286.4 736.1 286.0 738.2 286.1C740.3 286.2 743.1 287.4 744.1 287.6M707.1 250.3L712.3 250.6M720.4 249.6C721.5 249.7 725.0 249.9 727.1 250.1C729.2 250.2 731.2 250.7 733.0 250.6C734.9 250.6 737.3 249.8 738.2 249.6M715.3 331.7L714.5 334.6M726.8 331.7L727.7 334.6"/>
<path class="red" stroke="#d43542" stroke-width="1.2" d="M689.4 265.9H753M741.9 392.6H752.4"/>
<path class="red" stroke="#d43542" stroke-width="1.6" d="M747.5 265.9V392.6"/>
<path class="g" d="M22.6 420.9C22.4 423.2 22.0 429.9 21.7 435.1C21.5 440.3 21.2 446.3 20.9 451.8C20.6 457.4 20.1 463.0 20.1 468.6C20.0 474.2 20.1 480.0 20.4 485.3C20.7 490.6 21.4 496.2 21.7 500.4C22.1 504.6 23.0 507.6 22.6 510.4C22.2 513.2 20.3 514.9 19.2 517.1C18.2 519.3 16.8 521.6 16.4 523.8C16.0 526.0 16.0 528.5 16.7 530.5C17.5 532.5 19.2 534.1 20.9 535.5C22.6 536.9 25.2 539.0 26.8 538.9C28.3 538.7 29.5 535.4 30.1 534.7M20.9 527.2C21.6 528.1 23.8 531.9 25.1 533.0C26.3 534.1 27.9 533.7 28.4 533.8M36.0 421.7C35.8 423.9 35.2 430.9 34.8 435.1C34.4 439.3 33.8 443.8 33.5 446.8C33.1 449.9 32.5 451.0 32.6 453.5C32.8 456.0 33.7 459.1 34.3 461.9C34.8 464.7 35.7 468.9 36.0 470.3M36.0 421.7C36.2 422.8 36.8 425.3 37.6 428.4C38.5 431.5 40.0 436.5 41.0 440.1C42.0 443.8 43.2 447.4 43.8 450.2C44.5 453.0 44.7 455.7 44.8 456.9M44.8 456.9C44.2 458.3 42.3 462.4 41.0 465.2C39.6 468.0 38.0 470.8 36.8 473.6C35.6 476.4 34.6 479.2 33.8 482.0C32.9 484.8 32.3 487.5 31.8 490.3C31.2 493.1 30.7 497.3 30.4 498.7M30.4 502.1C30.4 504.0 29.9 509.6 30.1 513.8C30.3 517.9 30.7 522.4 31.4 527.2C32.1 531.9 33.3 537.2 34.3 542.2C35.3 547.2 36.7 552.8 37.6 557.3C38.6 561.7 39.6 565.6 40.1 569.0C40.7 572.3 40.8 576.0 41.0 577.4M37.6 428.4C38.5 428.9 40.8 430.7 42.7 431.4C44.5 432.1 46.7 432.5 48.5 432.6C50.3 432.6 52.7 431.9 53.5 431.8M64.4 429.7C65.3 429.6 67.6 428.5 69.4 428.7C71.2 428.9 73.2 430.3 75.3 430.9C77.4 431.6 79.9 432.5 82.0 432.6C84.1 432.7 86.2 432.3 87.8 431.4C89.5 430.6 90.9 429.2 92.0 427.6C93.1 426.0 94.1 422.7 94.5 421.7M94.5 421.7C94.3 423.1 93.7 426.7 92.9 430.1C92.0 433.4 90.5 438.2 89.5 441.8C88.5 445.4 87.5 449.2 87.0 451.8C86.5 454.5 86.7 456.7 86.7 457.7M86.7 457.7C87.3 459.2 89.0 463.7 90.4 466.9C91.7 470.1 93.4 473.9 94.5 476.9C95.7 480.0 96.6 482.5 97.4 485.3C98.1 488.1 98.6 491.5 99.1 493.7C99.5 495.9 99.9 497.9 100.1 498.7M100.1 502.1C100.1 504.0 100.6 509.6 100.4 513.8C100.2 517.9 99.8 522.4 99.1 527.2C98.4 531.9 97.2 537.2 96.2 542.2C95.2 547.2 93.8 552.8 92.9 557.3C91.9 561.7 90.9 565.6 90.4 569.0C89.8 572.3 89.7 576.0 89.5 577.4M95.4 421.7C95.6 423.9 96.4 430.9 96.7 435.1C97.1 439.3 97.2 443.2 97.4 446.8C97.6 450.4 98.0 453.8 97.9 456.9C97.8 459.9 97.1 462.7 96.7 465.2C96.3 467.7 95.6 470.8 95.4 471.9M107.4 420.9C107.6 423.2 108.1 429.9 108.4 435.1C108.8 440.3 109.3 446.3 109.6 451.8C109.9 457.4 110.4 463.0 110.4 468.6C110.5 474.2 110.4 480.0 110.1 485.3C109.8 490.6 109.1 496.2 108.8 500.4C108.4 504.6 107.5 507.6 107.9 510.4C108.3 513.2 110.4 514.9 111.3 517.1C112.2 519.3 113.2 521.6 113.5 523.8C113.7 526.0 113.7 528.5 112.9 530.5C112.2 532.5 110.4 534.1 108.8 535.5C107.1 536.9 104.4 539.0 102.9 538.9C101.4 538.7 100.1 535.4 99.6 534.7M109.1 527.2C108.4 528.1 106.3 531.9 105.1 533.0C103.9 534.1 102.3 533.7 101.7 533.8M37.6 497.9C38.6 497.7 41.5 496.9 43.5 497.0C45.4 497.2 47.5 498.0 49.4 498.7C51.2 499.4 52.7 500.2 54.4 501.2C56.0 502.2 58.6 504.0 59.4 504.6M71.1 504.6C71.9 504.1 74.3 502.6 76.1 501.7C77.9 500.8 79.9 499.7 82.0 499.0C84.1 498.4 86.7 498.0 88.7 497.9C90.6 497.8 92.9 498.3 93.7 498.4M63.9 510.4C63.9 513.2 63.8 521.6 63.6 527.2C63.4 532.7 63.0 538.3 62.7 543.9C62.5 549.5 62.1 555.0 61.9 560.6C61.7 566.2 61.6 574.6 61.6 577.4M66.6 510.4C66.7 513.2 67.0 521.6 67.3 527.2C67.5 532.7 67.7 538.3 67.9 543.9C68.2 549.5 68.4 555.0 68.6 560.6C68.8 566.2 68.9 574.6 68.9 577.4M63.2 509.7L67.3 509.7"/>
<path class="red" stroke-linecap="round" stroke-width="2.0" d="M31.1 496.0C31.1 501.1 46.4 505.3 65.2 505.3C84.1 505.3 99.4 502.4 99.4 498.8"/>
<path class="red" stroke-width="2.3" stroke-linecap="butt" stroke-dasharray="4.74 4.36" d="M37.3 493.0C52.0 489.1 81.3 489.1 96.0 493.0"/>
<path class="g" d="M378.1 468.7C377.7 468.3 376.5 467.2 375.6 466.5C374.6 465.7 373.6 465.0 372.6 464.3C371.6 463.6 370.3 462.8 369.6 462.1C368.8 461.4 368.5 460.6 368.0 459.9C367.5 459.2 367.2 458.9 366.6 458.2C365.9 457.4 365.1 456.5 364.4 455.5C363.7 454.6 363.1 453.5 362.5 452.5C361.9 451.4 360.9 449.9 361.0 449.0C361.0 448.0 362.8 447.4 362.7 446.8C362.6 446.1 361.0 445.9 360.5 445.0C360.0 444.1 360.0 442.7 359.7 441.5C359.4 440.3 358.9 439.1 358.8 438.0C358.7 436.9 358.6 435.5 359.1 435.0C359.6 434.4 360.9 435.0 361.8 435.0C362.8 434.9 364.2 435.2 364.8 434.5C365.4 433.9 365.2 432.1 365.4 431.0C365.7 429.9 365.9 429.0 366.6 427.9C367.2 426.9 368.3 426.0 369.6 424.9C370.8 423.8 372.3 422.5 373.8 421.4C375.3 420.3 377.0 419.1 378.6 418.3C380.1 417.5 381.8 417.0 383.3 416.6C384.8 416.2 386.1 416.0 387.6 415.9C389.0 415.9 390.4 415.8 391.9 416.1C393.3 416.4 394.7 417.2 396.1 417.9C397.6 418.5 399.0 419.2 400.4 420.1C401.9 420.9 403.4 422.0 404.7 423.1C406.1 424.2 407.6 425.4 408.6 426.6C409.6 427.9 410.2 429.2 410.7 430.6C411.3 432.0 411.6 433.9 412.0 435.0C412.5 436.0 412.6 437.0 413.3 437.1C414.0 437.3 415.5 435.5 416.3 435.8C417.1 436.1 417.8 437.7 418.0 438.9C418.2 440.0 417.5 441.6 417.6 442.8C417.7 444.1 418.5 445.2 418.5 446.3C418.4 447.5 417.7 448.8 417.2 449.8C416.7 450.9 416.0 451.5 415.5 452.5C415.0 453.4 414.7 454.4 414.2 455.5C413.6 456.6 412.9 457.9 412.0 459.0C411.2 460.1 410.1 461.2 409.0 462.1C407.9 463.0 406.7 463.7 405.6 464.3C404.5 464.9 403.4 465.2 402.6 465.6C401.7 466.0 400.8 466.7 400.4 466.9"/>
<path class="gi" d="M396.6 418.3C396.5 419.3 396.3 422.1 396.1 424.0C396.0 425.9 395.5 427.9 395.7 429.7C395.9 431.4 396.8 433.1 397.4 434.5C398.1 435.9 398.9 436.8 399.6 438.0C400.2 439.2 401.0 440.9 401.3 441.5M368.3 436.7C368.6 437.1 369.5 438.6 370.4 439.3C371.3 440.1 372.6 440.9 373.8 441.1C375.1 441.3 376.7 441.0 378.1 440.6C379.6 440.3 381.3 439.7 382.4 438.9C383.5 438.1 383.9 436.9 384.6 435.8C385.3 434.7 385.8 433.2 386.7 432.3C387.6 431.4 389.0 431.0 390.1 430.6C391.3 430.1 392.6 429.8 393.6 429.7C394.6 429.6 395.6 429.9 396.0 430.0M373.8 441.5C374.0 442.4 374.3 445.0 374.7 446.8C375.1 448.5 375.3 450.3 376.0 452.0C376.6 453.8 377.5 455.8 378.6 457.3C379.6 458.7 381.1 459.9 382.4 460.8C383.8 461.6 385.3 462.1 386.7 462.4C388.1 462.6 389.6 462.4 391.0 462.1C392.4 461.8 394.1 461.1 395.3 460.3C396.5 459.5 397.4 458.7 398.3 457.3C399.2 455.9 399.9 453.8 400.4 452.0C400.9 450.3 401.2 448.5 401.3 446.8C401.4 445.0 401.3 442.4 401.3 441.5M378.6 457.7C378.6 458.7 378.6 461.6 378.6 463.4C378.5 465.2 378.2 467.8 378.1 468.7M398.6 457.7C398.6 458.7 398.6 461.9 398.9 463.4C399.2 464.9 400.0 466.3 400.3 466.9M378.1 469.1C378.4 469.7 379.1 471.5 379.9 472.6C380.6 473.7 381.7 474.9 382.9 475.7C384.0 476.4 385.4 476.8 386.7 477.0C388.1 477.2 389.6 477.0 391.0 476.7C392.4 476.4 394.0 475.9 395.3 475.2C396.6 474.5 397.9 473.6 398.7 472.6C399.6 471.7 400.0 470.5 400.3 469.5C400.5 468.6 400.3 467.4 400.3 466.9"/>
<path class="g" d="M377.7 468.6C376.9 469.2 374.8 470.8 372.7 472.0C370.6 473.1 367.7 474.3 365.2 475.3C362.6 476.3 359.7 476.8 357.6 477.8C355.5 478.8 353.9 479.6 352.6 481.2C351.3 482.7 350.4 484.1 349.8 487.0C349.1 490.0 349.1 493.4 348.7 498.7C348.4 504.0 348.0 512.1 347.6 518.8C347.2 525.5 346.7 532.8 346.4 538.9C346.1 545.1 345.8 550.1 345.9 555.7C346.0 561.2 346.6 569.6 346.7 572.4M401.1 467.3C402.0 467.9 404.1 469.9 406.2 471.1C408.3 472.3 411.2 473.4 413.7 474.5C416.2 475.5 419.1 476.3 421.2 477.3C423.3 478.3 425.0 479.0 426.3 480.7C427.5 482.3 428.2 484.0 428.8 487.0C429.3 490.0 429.3 493.4 429.6 498.7C429.9 504.0 430.4 512.1 430.8 518.8C431.1 525.5 431.6 532.8 431.8 538.9C432.0 545.1 432.2 550.1 432.1 555.7C432.0 561.2 431.4 569.6 431.3 572.4M357.6 478.2C357.8 479.9 358.0 485.3 358.5 488.7C358.9 492.1 359.6 495.4 360.1 498.7C360.6 502.1 361.2 506.3 361.5 508.8C361.7 511.3 361.7 513.0 361.8 513.8M421.2 477.8C421.1 479.6 420.8 485.2 420.4 488.7C420.0 492.2 419.5 495.4 419.1 498.7C418.6 502.1 418.2 506.3 417.9 508.8C417.6 511.3 417.5 513.0 417.4 513.8M361.8 515.5C362.1 517.2 362.8 522.2 363.5 525.5C364.2 528.9 365.3 532.5 366.0 535.6C366.7 538.6 367.4 542.5 367.7 543.9M367.7 543.9C367.2 545.1 366.1 548.1 365.2 550.6C364.2 553.1 362.8 556.2 361.8 559.0C360.8 561.8 359.9 565.1 359.3 567.4C358.7 569.6 358.3 571.6 358.1 572.4M361.5 517.2C361.2 519.1 360.4 525.2 359.8 528.9C359.2 532.5 358.2 535.8 358.1 538.9C358.0 542.0 358.8 544.5 359.3 547.3C359.8 550.1 360.7 554.3 361.0 555.7M417.0 515.5C416.8 517.2 416.2 522.2 415.4 525.5C414.5 528.9 413.1 532.5 412.0 535.6C411.0 538.6 409.5 542.5 409.0 543.9M409.0 543.9C409.2 545.1 409.4 548.1 410.3 550.6C411.3 553.1 413.3 556.2 414.5 559.0C415.8 561.8 417.0 565.1 417.9 567.4C418.7 569.6 419.3 571.6 419.6 572.4M417.4 517.2C417.6 519.1 418.4 525.2 418.7 528.9C419.1 532.5 419.5 535.6 419.6 538.9C419.6 542.3 419.3 545.6 419.1 549.0C418.8 552.3 418.1 557.3 417.9 559.0"/>
<path class="gi" d="M361.8 513.0C362.4 513.5 363.6 515.5 365.2 516.3C366.7 517.2 368.9 517.9 371.0 518.0C373.1 518.1 375.3 517.6 377.7 517.2C380.1 516.7 383.0 515.9 385.2 515.5C387.5 515.1 389.1 514.6 391.1 514.6C393.1 514.7 394.9 515.3 397.0 515.8C399.0 516.4 401.4 517.7 403.7 518.0C405.9 518.3 408.4 518.0 410.3 517.5C412.3 516.9 414.2 515.5 415.4 514.6C416.5 513.7 417.0 512.5 417.4 512.1"/>
<path class="red" stroke="#c8222e" stroke-width="2" d="M364.3 473.3H372M368.2 473.3V509.6M364.3 509.6H372.3M406.7 472.8H415.8M411.2 472.8V510.1M406.7 510.1H415.5"/>
<path class="g3" d="M713.7 433.6C713.3 433.4 712.2 432.8 711.4 432.5C710.5 432.1 709.5 431.8 708.6 431.4C707.7 431.0 706.5 430.7 705.8 430.3C705.1 429.9 704.9 429.5 704.4 429.2C703.9 428.9 703.6 428.7 703.1 428.3C702.5 428.0 701.7 427.5 701.1 427.0C700.4 426.5 699.9 426.0 699.3 425.5C698.8 424.9 697.9 424.2 697.9 423.7C697.9 423.3 699.6 423.0 699.5 422.6C699.4 422.3 698.0 422.2 697.5 421.8C697.1 421.3 697.0 420.6 696.7 420.0C696.4 419.4 696.0 418.8 695.9 418.3C695.8 417.7 695.7 417.0 696.2 416.7C696.6 416.5 697.8 416.8 698.7 416.7C699.6 416.7 700.9 416.8 701.5 416.5C702.0 416.2 701.8 415.3 702.0 414.8C702.3 414.2 702.4 413.7 703.1 413.2C703.7 412.7 704.7 412.2 705.8 411.7C707.0 411.1 708.4 410.5 709.8 409.9C711.2 409.4 712.7 408.8 714.1 408.4C715.6 408.0 717.1 407.7 718.5 407.5C719.9 407.3 721.1 407.3 722.5 407.2C723.8 407.2 725.1 407.2 726.4 407.3C727.7 407.5 729.1 407.9 730.4 408.2C731.7 408.5 733.0 408.8 734.3 409.3C735.7 409.7 737.0 410.3 738.3 410.8C739.6 411.4 740.9 411.9 741.9 412.6C742.8 413.2 743.3 413.8 743.9 414.5C744.4 415.2 744.6 416.2 745.0 416.7C745.4 417.3 745.6 417.7 746.2 417.8C746.9 417.9 748.3 417.0 749.0 417.2C749.7 417.3 750.4 418.1 750.6 418.7C750.8 419.3 750.1 420.0 750.2 420.7C750.3 421.3 751.0 421.8 751.0 422.4C750.9 423.0 750.3 423.7 749.8 424.2C749.3 424.7 748.7 425.0 748.2 425.5C747.7 426.0 747.5 426.5 747.0 427.0C746.5 427.6 745.8 428.2 745.0 428.8C744.2 429.3 743.3 429.9 742.3 430.3C741.3 430.7 740.1 431.1 739.1 431.4C738.1 431.7 737.1 431.8 736.3 432.0C735.5 432.3 734.7 432.6 734.3 432.7"/>
<path class="gi" d="M730.8 408.4C730.7 408.9 730.5 410.3 730.4 411.2C730.2 412.2 729.8 413.2 730.0 414.1C730.2 415.0 731.0 415.8 731.6 416.5C732.2 417.2 733.0 417.7 733.5 418.3C734.1 418.8 734.9 419.7 735.1 420.0M704.6 417.6C705.0 417.8 705.8 418.6 706.6 418.9C707.5 419.3 708.6 419.7 709.8 419.8C711.0 419.9 712.4 419.8 713.7 419.6C715.1 419.4 716.7 419.1 717.7 418.7C718.7 418.3 719.0 417.7 719.7 417.2C720.4 416.6 720.8 415.8 721.7 415.4C722.5 415.0 723.8 414.8 724.8 414.5C725.9 414.3 727.1 414.1 728.0 414.1C728.9 414.0 729.9 414.2 730.2 414.2M709.8 420.0C709.9 420.4 710.3 421.8 710.6 422.6C710.9 423.5 711.2 424.4 711.8 425.3C712.4 426.1 713.2 427.2 714.1 427.9C715.1 428.6 716.5 429.2 717.7 429.6C719.0 430.1 720.3 430.3 721.7 430.4C723.0 430.5 724.3 430.5 725.6 430.3C726.9 430.1 728.5 429.8 729.6 429.4C730.7 429.0 731.6 428.6 732.4 427.9C733.2 427.2 733.9 426.1 734.3 425.3C734.8 424.4 735.0 423.5 735.1 422.6C735.3 421.8 735.1 420.4 735.1 420.0M714.1 428.1C714.1 428.6 714.2 430.0 714.1 431.0C714.1 431.9 713.8 433.1 713.7 433.6M732.6 428.1C732.7 428.6 732.7 430.2 732.9 431.0C733.2 431.7 734.0 432.4 734.2 432.7M713.7 433.8C714.0 434.1 714.6 435.0 715.3 435.6C716.1 436.1 717.1 436.7 718.1 437.1C719.2 437.4 720.4 437.7 721.7 437.7C722.9 437.8 724.3 437.8 725.6 437.6C726.9 437.5 728.4 437.2 729.6 436.9C730.8 436.5 732.0 436.0 732.8 435.6C733.5 435.1 733.9 434.5 734.2 434.0C734.4 433.5 734.2 432.9 734.2 432.7"/>
<path class="g3" d="M707.9 435.3C706.5 435.6 702.0 436.5 699.3 437.2C696.6 437.8 693.7 438.1 691.7 439.1C689.7 440.0 688.5 440.8 687.5 442.9C686.5 445.0 686.4 447.8 686.0 451.5C685.6 455.1 685.3 460.1 685.0 464.8C684.7 469.6 684.0 475.6 684.1 480.1C684.2 484.5 685.7 488.0 685.6 491.5C685.4 495.0 683.9 498.8 683.1 501.0C682.3 503.3 680.8 503.4 680.6 504.9C680.5 506.3 680.8 508.4 682.2 509.6C683.5 510.9 686.9 512.6 688.8 512.5C690.7 512.3 692.8 509.3 693.6 508.7M695.5 439.1C695.7 440.5 695.9 444.8 696.5 447.7C697.0 450.5 698.5 454.8 698.9 456.2M698.9 456.2C699.2 457.4 699.6 460.9 700.3 462.9C701.0 465.0 702.4 467.0 703.1 468.6C703.9 470.2 704.4 471.8 704.7 472.4M704.7 472.4C703.9 473.4 701.8 475.9 700.3 478.2C698.7 480.4 696.7 482.9 695.5 485.8C694.3 488.7 693.5 491.8 693.2 495.3C692.9 498.8 693.1 502.3 693.6 506.8C694.1 511.2 695.4 516.9 696.5 522.0C697.5 527.1 699.0 532.2 699.7 537.3C700.4 542.4 700.3 547.8 700.8 552.5C701.4 557.3 702.0 561.7 703.1 565.9C704.3 570.0 706.8 574.1 707.9 577.3C709.0 580.5 710.1 582.6 709.8 584.9C709.5 587.3 706.9 590.1 706.0 591.6C705.0 593.1 704.4 593.7 704.1 594.1M698.9 457.2C698.5 458.5 697.0 462.4 696.5 464.8C695.9 467.2 695.3 469.6 695.5 471.5C695.7 473.4 697.1 475.5 697.4 476.3M740.3 435.3C741.4 435.6 744.8 436.5 747.0 437.2C749.2 437.8 751.8 438.1 753.7 439.1C755.5 440.0 757.0 440.8 758.0 442.9C759.1 445.0 759.5 447.8 759.9 451.5C760.4 455.1 760.5 460.1 760.7 464.8C760.9 469.6 761.5 475.6 761.3 480.1C761.1 484.5 759.4 488.0 759.4 491.5C759.4 495.0 760.5 498.8 761.3 501.0C762.1 503.3 763.9 503.4 764.1 504.9C764.4 506.3 763.9 508.4 762.6 509.6C761.3 510.9 758.2 512.6 756.5 512.5C754.8 512.3 753.0 509.3 752.3 508.7M750.8 439.1C750.6 440.5 750.3 444.8 749.8 447.7C749.4 450.5 748.3 454.8 747.9 456.2M747.9 456.2C747.6 457.4 746.8 460.9 746.0 462.9C745.2 465.0 743.9 466.9 743.2 468.6C742.4 470.4 741.9 472.6 741.6 473.4M741.6 473.4C742.4 474.4 744.5 476.9 746.0 479.1C747.6 481.3 749.6 484.0 750.8 486.7C752.0 489.5 752.8 492.0 753.1 495.3C753.4 498.7 753.2 502.3 752.7 506.8C752.2 511.2 750.9 516.9 749.8 522.0C748.8 527.1 747.4 532.2 746.6 537.3C745.8 542.4 745.8 547.8 745.1 552.5C744.3 557.3 743.5 561.7 742.2 565.9C740.9 570.0 738.6 574.1 737.4 577.3C736.3 580.5 735.2 582.6 735.5 584.9C735.9 587.3 738.4 590.1 739.4 591.6C740.3 593.1 740.9 593.7 741.3 594.1M747.9 457.2C748.3 458.5 749.4 462.4 749.8 464.8C750.3 467.2 750.6 469.6 750.4 471.5C750.3 473.4 749.1 475.5 748.9 476.3M698.9 455.7C699.6 455.9 701.5 456.9 703.1 457.2C704.8 457.5 706.9 457.6 708.9 457.6C710.8 457.5 713.6 456.9 714.6 456.8M730.8 456.8C731.9 456.9 735.4 457.5 737.4 457.6C739.5 457.6 741.4 457.6 743.2 457.2C744.9 456.8 747.1 455.6 747.9 455.3M693.6 493.4C694.9 493.2 698.5 492.1 701.2 491.9C703.9 491.7 707.3 492.1 709.8 492.5C712.3 492.9 714.5 493.6 716.5 494.4C718.5 495.2 720.9 496.8 721.8 497.2M726.4 497.2C727.3 496.8 729.7 495.1 731.7 494.4C733.7 493.7 736.0 493.4 738.4 493.0C740.8 492.7 743.6 492.3 746.0 492.5C748.4 492.6 751.6 493.6 752.7 493.8M721.8 497.2C721.6 500.1 721.1 508.4 720.7 514.4C720.3 520.4 719.8 528.4 719.3 533.5C718.9 538.5 718.0 540.8 718.0 544.9C718.0 549.0 719.2 553.8 719.3 558.2C719.5 562.7 719.1 567.5 718.8 571.6C718.4 575.7 717.3 579.5 717.4 583.0C717.5 586.5 719.0 591.0 719.3 592.6M726.4 497.2C726.6 500.1 727.1 508.4 727.5 514.4C727.9 520.4 728.5 528.4 728.9 533.5C729.3 538.5 729.9 540.8 729.8 544.9C729.7 549.0 728.5 553.8 728.3 558.2C728.1 562.7 728.6 567.5 728.9 571.6C729.2 575.7 730.4 579.5 730.2 583.0C730.0 586.5 728.3 591.0 727.9 592.6M716.1 534.4L717.4 538.2M730.8 534.4L729.8 538.2"/>
<path class="red" stroke="#d2262c" stroke-width="2" d="M707.3 435.8H741M702.8 594.1H742.3"/>
<path class="red" stroke="#d2262c" stroke-width="3.3" d="M724.1 435.8V594.1"/>
<path class="g" d="M47.5 705.5C47.1 705.2 45.6 704.4 44.7 703.8C43.7 703.2 42.8 702.7 41.8 702.0C40.8 701.3 39.5 700.6 38.5 699.7C37.5 698.8 36.5 697.9 35.6 696.8C34.7 695.8 33.9 694.6 33.2 693.5C32.4 692.4 31.6 691.3 31.1 690.2C30.6 689.2 30.2 688.3 30.0 687.4C29.9 686.5 30.4 685.6 30.3 684.9C30.1 684.1 29.3 683.5 29.2 682.8C29.1 682.2 29.9 681.5 29.7 680.8C29.5 680.1 28.3 679.5 28.2 678.7C28.1 678.0 28.8 677.1 29.0 676.3C29.3 675.4 29.6 674.6 29.9 673.8C30.1 673.0 30.2 672.0 30.5 671.6C30.9 671.2 31.4 671.2 31.9 671.3C32.4 671.5 32.9 672.3 33.6 672.4C34.3 672.5 35.4 672.2 36.0 671.7C36.7 671.3 37.1 670.5 37.7 669.7C38.3 668.9 39.0 667.7 39.7 666.8C40.5 665.9 41.4 665.0 42.2 664.3C43.0 663.7 43.8 663.1 44.7 662.7C45.6 662.3 46.9 662.4 47.5 662.0C48.2 661.6 48.1 660.8 48.8 660.2C49.5 659.7 50.6 659.0 51.7 658.6C52.8 658.2 54.1 657.9 55.4 657.9C56.7 657.9 58.1 658.2 59.5 658.6C60.8 659.0 62.3 659.5 63.6 660.2C64.9 660.9 66.1 661.8 67.3 662.7C68.5 663.6 69.6 664.6 70.6 665.6C71.6 666.5 72.6 667.5 73.5 668.5C74.3 669.4 75.2 671.5 75.9 671.3C76.6 671.2 77.0 667.8 77.6 667.6C78.1 667.4 78.7 669.1 79.2 670.1C79.8 671.1 80.4 672.3 80.9 673.4C81.3 674.5 81.8 675.6 82.1 676.7C82.4 677.8 82.6 678.9 82.5 680.0C82.4 681.0 81.3 681.9 81.3 682.8C81.2 683.8 82.4 684.8 82.3 685.7C82.3 686.6 80.8 687.2 80.9 688.2C80.9 689.1 82.4 690.6 82.5 691.5C82.6 692.4 82.2 692.8 81.7 693.5C81.1 694.3 80.0 695.2 79.2 696.0C78.4 696.8 77.7 697.4 76.7 698.1C75.8 698.7 74.5 699.4 73.5 700.1C72.4 700.8 71.2 701.5 70.2 702.2C69.1 702.8 68.2 703.3 67.3 703.8C66.4 704.3 65.2 705.0 64.8 705.3M47.5 705.5L64.8 705.3"/>
<path class="g" d="M47.2 705.5C47.2 706.5 47.5 709.9 47.2 711.3C46.8 712.8 45.5 713.9 45.2 714.4M64.8 705.5C64.8 706.5 64.4 709.9 64.8 711.3C65.2 712.8 66.7 713.7 67.1 714.1M45.2 714.4C44.2 714.9 41.6 716.5 39.5 717.5C37.4 718.5 34.8 719.4 32.6 720.2C30.4 721.1 28.4 721.9 26.5 722.9C24.6 723.8 22.5 724.5 21.1 725.9C19.7 727.3 18.7 728.6 18.0 731.3C17.3 734.0 17.3 737.7 17.0 742.0C16.6 746.4 16.1 752.2 15.7 757.4C15.3 762.5 14.9 767.6 14.5 772.7C14.1 777.8 13.7 783.2 13.4 788.0C13.2 792.9 13.1 799.5 13.0 801.8M67.1 714.1C68.0 714.5 70.3 715.8 72.5 716.7C74.7 717.6 77.6 718.4 80.2 719.3C82.7 720.2 85.4 720.9 87.8 722.1C90.3 723.3 92.9 725.2 94.7 726.7C96.5 728.2 97.2 729.5 98.6 731.3C100.0 733.1 101.1 734.6 103.2 737.4C105.2 740.2 108.0 744.8 110.8 748.2C113.6 751.5 117.2 754.7 120.0 757.4C122.8 760.0 126.0 762.5 127.7 764.3C129.4 766.1 129.6 767.5 130.0 768.1M130.0 768.1C129.4 769.4 128.1 773.0 126.2 775.8C124.2 778.6 121.3 781.9 118.5 785.0C115.7 788.0 112.1 791.5 109.3 794.2C106.5 796.9 102.9 799.9 101.6 801.1M88.6 745.9C89.2 746.0 90.5 745.2 92.4 746.6C94.3 748.0 97.5 751.6 100.1 754.3C102.6 757.0 105.5 760.3 107.8 762.7C110.1 765.2 112.9 767.8 113.9 768.9M113.9 768.9C113.4 770.0 112.6 773.1 110.8 775.8C109.0 778.5 105.7 781.9 103.2 785.0C100.6 788.0 97.8 791.7 95.5 794.2C93.2 796.6 90.4 798.6 89.4 799.5M88.6 745.9C87.9 747.3 86.2 750.8 84.8 754.3C83.3 757.7 81.5 762.7 80.2 766.6C78.8 770.4 77.6 774.2 76.8 777.3C76.0 780.4 75.2 782.7 75.2 785.0C75.3 787.3 76.0 789.3 77.1 791.1C78.2 792.9 79.6 794.3 81.7 795.7C83.7 797.1 88.1 798.9 89.4 799.5M26.5 742.0C27.0 744.1 28.3 749.9 29.5 754.3C30.8 758.6 32.9 763.8 34.1 768.1C35.4 772.4 36.6 777.3 37.2 780.4C37.8 783.4 38.4 784.2 38.0 786.5C37.6 788.8 36.2 791.6 34.9 794.2C33.6 796.7 31.1 800.6 30.3 801.8M28.0 742.0C28.1 744.6 28.6 752.2 28.8 757.4C29.0 762.5 29.2 767.6 29.2 772.7C29.2 777.8 28.8 783.2 28.8 788.0C28.8 792.9 29.2 799.5 29.2 801.8M71.0 791.9C71.5 792.5 72.7 794.2 74.0 795.7C75.3 797.2 77.9 800.2 78.6 801.1M73.3 791.9C73.9 792.3 75.7 793.4 77.1 794.2C78.5 794.9 80.9 796.1 81.7 796.5M24.9 792.6L28.0 788.0"/>
<path class="g2" d="M86.3 725.2C86.1 726.7 85.3 731.3 85.1 734.4C84.8 737.4 84.8 742.0 84.8 743.6M28.0 725.2C28.1 726.7 28.3 731.5 28.3 734.4C28.3 737.2 28.1 740.7 28.0 742.0"/>
<path class="red" stroke="#cc2530" stroke-width="2" d="M17 723.3H93.7"/>
<path class="red" stroke="#cc2530" stroke-width="1.6" d="M17 718.3V729.8M93.7 719V729.4"/>
<path class="g" d="M368.6 700.8C368.1 700.5 366.7 699.7 365.8 699.1C364.8 698.5 364.0 698.0 363.0 697.3C362.0 696.6 360.7 695.8 359.7 695.0C358.7 694.1 357.8 693.1 357.0 692.1C356.1 691.0 355.3 689.8 354.5 688.7C353.8 687.6 353.1 686.4 352.5 685.4C352.0 684.4 351.6 683.4 351.5 682.5C351.4 681.6 351.9 680.8 351.7 680.0C351.6 679.2 350.8 678.6 350.7 677.9C350.6 677.2 351.3 676.5 351.2 675.8C351.0 675.1 349.8 674.5 349.7 673.8C349.6 673.0 350.3 672.1 350.5 671.3C350.8 670.4 351.1 669.5 351.3 668.8C351.6 668.0 351.6 666.9 352.0 666.5C352.3 666.1 352.8 666.1 353.3 666.3C353.8 666.4 354.3 667.3 355.0 667.3C355.6 667.4 356.7 667.1 357.4 666.7C358.0 666.2 358.4 665.4 359.0 664.6C359.6 663.8 360.2 662.6 361.0 661.7C361.7 660.8 362.6 659.9 363.4 659.2C364.2 658.5 364.9 657.9 365.8 657.5C366.6 657.1 367.9 657.3 368.6 656.9C369.2 656.5 369.1 655.6 369.8 655.0C370.4 654.5 371.5 653.8 372.6 653.4C373.6 653.0 374.9 652.7 376.2 652.7C377.5 652.7 378.9 653.0 380.2 653.4C381.5 653.8 382.9 654.3 384.2 655.0C385.5 655.7 386.7 656.6 387.8 657.5C388.9 658.4 390.0 659.5 391.0 660.4C392.0 661.4 392.9 662.4 393.8 663.4C394.7 664.3 395.5 666.4 396.2 666.3C396.9 666.1 397.3 662.7 397.8 662.5C398.3 662.3 398.9 664.0 399.4 665.0C400.0 666.0 400.6 667.2 401.0 668.4C401.5 669.5 402.0 670.6 402.2 671.7C402.5 672.8 402.8 674.0 402.6 675.0C402.5 676.0 401.5 676.9 401.4 677.9C401.4 678.9 402.5 679.9 402.5 680.8C402.4 681.7 401.0 682.4 401.0 683.3C401.1 684.3 402.5 685.7 402.6 686.6C402.8 687.5 402.4 688.0 401.8 688.7C401.3 689.5 400.2 690.5 399.4 691.2C398.6 692.0 398.0 692.6 397.0 693.3C396.1 694.0 394.9 694.7 393.8 695.4C392.7 696.1 391.6 696.8 390.6 697.5C389.6 698.1 388.7 698.6 387.8 699.1C386.9 699.6 385.8 700.4 385.4 700.6M368.6 700.8L385.4 700.6"/>
<path class="g" d="M368.4 700.9C368.4 701.8 368.8 704.9 368.4 706.3C368.1 707.7 366.5 708.9 366.1 709.4M385.5 700.9C385.5 701.8 385.1 704.9 385.5 706.3C385.9 707.7 387.5 708.9 387.8 709.4M366.1 709.4C365.2 709.9 362.8 711.5 360.7 712.5C358.6 713.5 355.9 714.2 353.7 715.1C351.5 716.0 349.3 716.9 347.5 717.9C345.7 718.9 344.1 719.6 342.8 721.0C341.6 722.5 340.9 723.6 340.2 726.5C339.6 729.3 339.4 733.6 339.0 738.1C338.6 742.6 338.1 748.4 337.7 753.6C337.3 758.8 336.9 764.0 336.6 769.1C336.3 774.3 336.0 779.7 335.9 784.6C335.7 789.6 335.6 796.3 335.6 798.6M387.8 709.4C388.7 709.8 391.1 710.9 393.3 711.7C395.5 712.6 398.6 713.5 401.0 714.5C403.5 715.5 405.9 716.7 408.0 717.9C410.1 719.1 411.8 720.3 413.4 721.8C415.1 723.4 416.3 724.8 418.1 727.2C419.9 729.7 421.7 732.9 424.3 736.5C426.9 740.2 430.5 745.2 433.6 749.0C436.7 752.7 440.2 756.1 442.9 759.0C445.6 762.0 448.7 765.5 449.9 766.8M449.9 766.8C449.3 768.0 448.0 771.2 446.0 773.8C444.1 776.4 441.1 779.5 438.3 782.3C435.4 785.2 431.9 788.3 429.0 790.8C426.0 793.4 421.8 796.7 420.4 797.8M409.6 742.8C411.0 744.0 415.4 747.9 418.1 750.5C420.8 753.1 423.3 755.8 425.9 758.3C428.4 760.7 432.3 764.1 433.6 765.2M433.6 765.2C433.1 766.4 432.3 769.5 430.5 772.2C428.7 774.9 425.3 778.4 422.8 781.5C420.2 784.6 417.3 788.3 415.0 790.8C412.7 793.4 409.8 795.8 408.8 796.7M406.5 744.3C405.9 745.9 404.5 750.2 403.4 753.6C402.2 757.0 400.6 760.9 399.5 764.5C398.3 768.1 397.1 772.2 396.4 775.3C395.6 778.4 395.0 780.8 395.1 783.1C395.3 785.4 396.0 787.5 397.1 789.3C398.3 791.1 399.9 792.7 401.8 794.0C403.7 795.2 407.6 796.3 408.8 796.7M348.3 738.1C348.8 740.4 350.2 747.7 351.4 752.1C352.5 756.5 354.1 760.3 355.3 764.5C356.4 768.6 357.8 773.8 358.4 776.9C359.0 780.0 359.3 780.8 358.8 783.1C358.4 785.4 357.0 788.4 355.7 790.8C354.5 793.3 352.1 796.7 351.4 797.8M349.8 738.1C349.9 740.7 350.0 748.4 350.1 753.6C350.3 758.8 350.6 764.0 350.6 769.1C350.6 774.3 350.1 779.9 350.1 784.6C350.1 789.4 350.5 795.6 350.6 797.8M391.7 788.5C392.2 789.2 393.8 791.1 394.8 792.4C395.9 793.7 397.4 795.6 397.9 796.3M394.0 788.5C394.7 789.0 396.6 790.7 397.9 791.6C399.2 792.5 401.2 793.6 401.8 794.0M346.7 790.1L349.5 785.4"/>
<path class="g2" d="M349.8 719.5C349.8 721.0 350.0 725.7 349.8 728.8C349.7 731.9 349.2 736.5 349.0 738.1"/>
<path class="red" style="stroke-width:1.7" d="M414.7 724.4C414.5 723.9 414.0 721.9 413.4 721.0C412.8 720.2 412.1 719.1 411.1 719.5C410.1 719.9 408.1 721.5 407.2 723.4C406.3 725.2 405.8 728.0 405.7 730.3C405.6 732.7 405.8 735.4 406.5 737.3C407.1 739.3 408.7 741.3 409.6 742.0C410.5 742.6 411.3 741.7 411.9 741.2C412.5 740.7 412.9 739.4 413.1 739.0"/>
<path class="red" style="stroke-width:1.6;stroke-dasharray:1.5 2.6;stroke-linecap:butt" d="M414.1 727.5C414.0 728.4 414.0 730.9 413.9 732.7C413.8 734.4 413.5 737.2 413.4 738.1"/>
<path class="g" d="M700.6 691.5C700.2 691.2 698.9 690.5 698.0 690.0C697.1 689.5 696.2 689.0 695.3 688.3C694.3 687.7 693.1 687.0 692.2 686.3C691.2 685.5 690.3 684.6 689.5 683.7C688.6 682.7 687.9 681.7 687.2 680.7C686.5 679.7 685.7 678.6 685.2 677.7C684.7 676.8 684.4 675.9 684.2 675.1C684.1 674.3 684.6 673.5 684.5 672.8C684.3 672.1 683.6 671.6 683.5 671.0C683.4 670.3 684.1 669.7 683.9 669.1C683.8 668.5 682.6 667.9 682.5 667.2C682.4 666.6 683.1 665.7 683.3 665.0C683.6 664.3 683.8 663.5 684.1 662.8C684.3 662.1 684.4 661.1 684.7 660.8C685.0 660.4 685.5 660.4 686.0 660.5C686.5 660.6 686.9 661.4 687.5 661.5C688.2 661.6 689.2 661.3 689.9 660.9C690.5 660.5 690.8 659.8 691.4 659.0C692.0 658.3 692.6 657.2 693.3 656.4C694.0 655.6 694.9 654.8 695.6 654.2C696.4 653.6 697.1 653.0 698.0 652.7C698.8 652.3 700.0 652.5 700.6 652.1C701.3 651.7 701.2 651.0 701.8 650.5C702.4 649.9 703.5 649.3 704.5 649.0C705.5 648.6 706.8 648.4 708.0 648.4C709.2 648.4 710.5 648.6 711.8 649.0C713.1 649.3 714.5 649.8 715.7 650.5C716.9 651.1 718.0 651.9 719.1 652.7C720.2 653.5 721.3 654.4 722.2 655.3C723.2 656.2 724.1 657.0 724.9 657.9C725.8 658.8 726.6 660.6 727.2 660.5C727.9 660.4 728.3 657.4 728.8 657.2C729.3 657.0 729.8 658.5 730.3 659.4C730.8 660.3 731.4 661.4 731.9 662.4C732.3 663.4 732.8 664.4 733.0 665.4C733.3 666.4 733.5 667.4 733.4 668.4C733.3 669.3 732.3 670.1 732.2 671.0C732.2 671.8 733.3 672.8 733.2 673.6C733.2 674.4 731.8 675.0 731.9 675.8C731.9 676.7 733.3 678.0 733.4 678.8C733.5 679.6 733.1 680.0 732.6 680.7C732.1 681.4 731.1 682.2 730.3 682.9C729.6 683.6 728.9 684.1 728.0 684.8C727.1 685.4 725.9 686.0 724.9 686.6C723.9 687.3 722.8 687.9 721.8 688.5C720.9 689.1 720.0 689.5 719.1 690.0C718.3 690.5 717.2 691.1 716.8 691.3M700.6 691.5L716.8 691.3"/>
<path class="g" d="M700.8 691.5C700.8 692.5 701.2 695.6 700.8 697.0C700.4 698.4 698.8 699.6 698.4 700.1M716.3 691.5C716.3 692.5 715.9 696.0 716.3 697.4C716.7 698.9 718.2 699.6 718.6 700.1M698.4 700.1C697.5 700.5 695.1 701.9 693.0 702.7C690.9 703.6 688.2 704.3 686.0 705.2C683.8 706.1 681.6 707.2 679.8 708.3C678.0 709.4 676.3 710.2 675.2 711.7C674.0 713.2 673.4 714.3 672.8 717.1C672.3 720.0 672.1 724.0 671.8 728.8C671.4 733.6 670.8 740.2 670.5 745.9C670.3 751.5 670.2 757.2 670.2 762.9C670.2 768.6 670.3 774.8 670.5 780.0C670.7 785.2 671.0 790.1 671.3 794.0C671.6 797.8 671.9 801.7 672.1 803.3M718.6 700.1C719.6 700.5 722.5 701.5 724.8 702.4C727.1 703.3 730.1 704.3 732.6 705.5C735.0 706.7 737.4 707.8 739.6 709.4C741.8 710.9 743.8 712.9 745.8 714.8C747.7 716.8 749.1 719.0 751.2 721.0C753.3 723.1 755.6 724.6 758.2 727.2C760.8 729.8 764.1 733.6 766.7 736.5C769.3 739.5 771.8 742.6 773.7 745.1C775.6 747.5 777.6 750.2 778.4 751.3M778.4 751.3C777.4 752.4 775.4 755.6 772.9 758.3C770.5 761.0 767.0 764.2 763.6 767.6C760.2 770.9 756.1 775.3 752.8 778.4C749.4 781.5 746.2 784.1 743.4 786.2C740.7 788.3 737.6 790.1 736.5 790.8M739.6 729.6C740.3 730.1 742.3 731.0 744.2 732.7C746.2 734.3 749.0 737.4 751.2 739.6C753.4 741.8 755.7 744.0 757.4 745.9C759.1 747.7 760.6 749.7 761.3 750.5M761.3 750.5C760.6 751.5 759.1 754.3 757.4 756.7C755.7 759.2 753.4 762.4 751.2 765.2C749.0 768.1 746.3 771.7 744.2 773.8C742.1 775.9 739.7 777.0 738.8 777.7M739.6 729.6C738.9 731.0 737.1 734.9 735.7 738.1C734.3 741.3 732.5 745.3 731.0 749.0C729.6 752.6 728.0 756.7 727.1 759.8C726.3 762.9 725.8 765.4 726.1 767.6C726.3 769.8 727.4 771.5 728.7 773.0C730.0 774.5 732.5 775.8 734.1 776.6C735.8 777.4 738.0 777.5 738.8 777.7M682.6 731.9C683.1 734.0 684.3 740.4 685.3 744.3C686.2 748.2 687.5 751.8 688.4 755.2C689.3 758.5 690.4 761.9 690.7 764.5C690.9 767.1 690.7 768.6 689.9 770.7C689.1 772.7 687.2 774.6 686.0 776.9C684.9 779.2 683.4 783.4 682.9 784.6M682.9 784.6C682.5 785.9 681.4 789.3 680.6 792.4C679.8 795.5 678.7 801.5 678.3 803.3M682.9 738.1C683.0 740.7 683.2 748.4 683.2 753.6C683.2 758.8 682.9 765.0 682.9 769.1C683.0 773.3 683.6 776.9 683.7 778.4M729.5 773.8C730.0 775.1 731.5 778.7 732.6 781.5C733.6 784.4 734.9 787.2 735.7 790.8C736.5 794.5 737.0 801.2 737.2 803.3M721.7 770.7C722.5 771.3 724.6 773.5 726.4 774.6C728.2 775.6 731.5 776.5 732.6 776.9M724.0 769.9C725.0 770.3 727.9 771.5 729.5 772.2C731.0 773.0 732.7 774.2 733.4 774.6"/>
<path class="g2" d="M736.5 709.4C736.3 711.1 735.8 716.2 735.7 719.5C735.6 722.7 735.7 727.2 735.7 728.8M682.2 708.6C682.2 710.4 682.1 715.6 682.2 719.5C682.2 723.4 682.5 729.8 682.6 731.9"/>
<path class="red" style="stroke-width:1.7" d="M758.6 724.4C758.5 724.0 758.2 722.4 757.7 721.8C757.2 721.2 756.5 720.6 755.9 721.0C755.2 721.4 754.3 722.3 753.7 724.1C753.1 725.9 752.5 729.3 752.4 731.9C752.3 734.5 752.5 737.4 753.1 739.6C753.6 741.8 754.8 744.3 755.5 745.1C756.3 745.9 757.4 744.4 757.7 744.3"/>
<path class="red" style="stroke-width:1.6;stroke-dasharray:1.5 2.6;stroke-linecap:butt" d="M758.8 727.2C758.8 728.4 758.9 731.8 758.8 734.2C758.7 736.7 758.3 740.7 758.2 742.0"/>
<path class="k" d="M40.4 864.8C40.1 865.5 38.9 867.6 38.2 869.3C37.4 871.0 36.7 873.1 35.9 875.0C35.2 876.8 34.3 878.7 33.7 880.6C33.0 882.5 32.4 884.4 32.0 886.3C31.5 888.1 31.4 890.1 30.8 891.9C30.3 893.7 29.6 895.4 28.6 897.0C27.5 898.6 25.7 900.4 24.6 901.5C23.5 902.7 22.4 903.4 22.0 903.8M22.0 903.8C22.7 903.9 25.0 904.2 26.3 904.6C27.6 905.0 29.4 905.1 29.7 906.0C30.0 907.0 28.1 908.8 28.0 910.0C27.9 911.2 28.8 912.6 29.1 913.4C29.5 914.2 30.4 914.0 30.3 914.5C30.1 915.1 28.3 916.1 28.3 916.8C28.3 917.4 30.1 917.7 30.3 918.5C30.5 919.2 29.8 920.4 29.5 921.3C29.1 922.3 28.1 923.3 28.0 924.1C27.9 925.0 28.3 925.8 29.1 926.4C30.0 927.0 31.3 927.4 33.1 927.5C34.9 927.7 37.4 927.5 39.9 927.2C42.3 926.9 46.5 926.1 47.8 925.8M34.8 866.5C35.5 866.2 38.3 865.1 39.3 864.8C40.3 864.4 40.5 864.5 40.8 864.4M74.9 865.3C75.9 865.4 78.7 865.7 80.6 865.9C82.5 866.1 84.3 865.7 86.2 866.5C88.1 867.2 90.3 869.0 91.9 870.4C93.5 871.8 94.8 873.4 95.8 875.0C96.9 876.6 97.7 879.2 98.1 880.0M45.5 873.8C46.3 873.7 48.6 873.2 50.0 873.3C51.5 873.4 53.0 873.9 54.0 874.4C55.0 874.9 55.9 875.8 56.3 876.1M72.1 875.5C72.6 875.6 74.2 875.8 74.9 876.1C75.7 876.4 76.3 877.0 76.6 877.2M54.6 888.0C55.2 888.1 57.6 888.3 58.5 888.5C59.5 888.7 59.9 889.1 60.2 889.2M56.3 894.2L58.0 894.7M56.3 901.0L59.1 900.7M69.3 888.5C70.0 888.1 72.1 886.9 73.8 886.3C75.5 885.6 77.6 885.0 79.4 884.6C81.3 884.1 84.2 883.6 85.1 883.4M59.7 898.1C60.3 898.0 62.3 897.9 63.6 897.6C64.9 897.2 66.3 896.3 67.6 895.9C68.9 895.5 70.2 895.3 71.5 895.3C72.8 895.3 74.5 895.2 75.5 895.9C76.4 896.5 77.0 897.9 77.2 899.3C77.4 900.6 77.1 902.5 76.6 903.8C76.1 905.1 75.4 906.2 74.4 907.2C73.3 908.1 71.7 908.9 70.4 909.4C69.1 910.0 67.6 910.4 66.4 910.6C65.3 910.8 64.1 910.6 63.6 910.6M64.7 897.0C65.3 897.1 67.2 897.1 68.1 897.6C69.1 898.0 70.0 899.5 70.4 899.8M47.8 925.8C48.7 925.5 51.6 924.5 53.4 923.6C55.2 922.6 57.2 921.3 58.5 920.2C59.8 919.1 60.7 917.7 61.4 916.8C62.0 915.8 62.3 914.9 62.5 914.5M87.4 891.9C88.1 892.5 90.5 894.1 91.9 895.3C93.3 896.5 94.8 897.9 95.8 899.3C96.9 900.6 97.6 902.0 98.1 903.2C98.6 904.4 98.6 906.0 98.7 906.6M97.5 889.7C98.1 890.4 100.1 892.7 100.9 894.2C101.8 895.7 102.4 897.2 102.6 898.7C102.8 900.2 102.1 902.5 102.1 903.2M102.1 895.3C102.6 895.0 104.4 894.0 105.4 893.6C106.5 893.3 107.8 893.3 108.3 893.3M104.3 897.6L106.6 897.0M108.8 905.5C109.0 906.2 109.9 908.5 110.0 910.0C110.1 911.5 109.5 913.8 109.4 914.5M91.3 912.3C91.4 912.7 91.4 914.2 91.9 915.1C92.4 915.9 93.5 916.9 94.1 917.4C94.7 917.8 95.3 917.6 95.5 917.7M71.5 919.6C72.1 920.4 73.8 922.6 74.9 924.1C76.1 925.6 77.4 927.2 78.3 928.7C79.3 930.2 80.0 931.6 80.6 933.2C81.1 934.8 81.5 937.4 81.7 938.3M98.7 937.1C99.2 937.5 100.9 938.7 102.1 939.4C103.2 940.1 104.1 941.0 105.4 941.1C106.8 941.2 108.6 940.6 110.0 940.0C111.4 939.3 113.3 937.6 113.9 937.1M97.5 941.1C98.3 941.4 100.5 942.6 102.1 942.8C103.6 943.0 105.4 942.5 106.6 942.2C107.7 941.9 108.5 941.3 108.8 941.1M94.1 947.3C94.9 947.7 97.2 949.3 98.7 949.6C100.2 949.9 101.9 949.6 103.2 949.0C104.5 948.4 105.7 947.2 106.6 946.2C107.4 945.1 108.0 943.4 108.3 942.8M47.8 925.8C48.3 926.8 49.9 929.6 50.6 931.5C51.4 933.4 51.8 935.3 52.3 937.1C52.8 939.0 53.2 940.9 53.4 942.8C53.7 944.7 54.0 946.6 54.0 948.4C54.0 950.3 53.6 952.5 53.4 954.1C53.3 955.7 53.0 957.4 52.9 958.1"/>
<path class="k" style="stroke-width:1.9" d="M43.8 863.1C44.7 863.0 46.9 862.5 48.9 862.5C50.9 862.5 53.4 862.7 55.7 863.1C58.0 863.5 60.6 864.3 62.5 864.8C64.4 865.3 66.3 865.9 67.0 866.1"/>
<path class="k" style="stroke-width:2.6" d="M54.0 884.7C54.7 884.5 56.7 883.7 58.0 883.8C59.2 883.9 60.8 884.9 61.4 885.1"/>
<path class="k" style="stroke-width:1.1" d="M74.9 910.6C75.2 910.9 76.1 911.4 76.6 912.3C77.2 913.1 78.2 914.9 78.3 915.7C78.4 916.4 77.7 917.1 77.2 916.8C76.7 916.5 75.9 915.0 75.5 914.0C75.1 912.9 75.0 911.1 74.9 910.6"/>
<path class="k" style="stroke-width:1.0" d="M106.6 916.2C107.1 916.6 108.8 917.9 110.0 918.5C111.1 919.1 112.8 919.4 113.4 919.6"/>
<path class="k" style="stroke-width:2.2" d="M81.7 938.3C81.9 939.2 82.3 942.4 82.8 943.9C83.4 945.4 84.0 946.6 85.1 947.3C86.2 948.1 88.1 948.4 89.6 948.4C91.1 948.4 93.4 947.5 94.1 947.3"/>
<path class="k" d="M52.9 956.5C52.8 956.9 53.2 957.8 52.4 959.1C51.5 960.4 49.7 961.9 47.9 964.4C46.2 966.9 43.7 971.2 41.8 974.1C39.9 977.1 38.2 979.6 36.5 982.1C34.7 984.6 32.9 987.1 31.2 989.1C29.4 991.2 27.4 992.8 25.9 994.4C24.4 996.0 23.0 997.2 22.4 998.8C21.7 1000.4 21.6 1002.2 22.0 1004.1C22.4 1006.0 23.8 1008.4 25.0 1010.3C26.2 1012.2 28.4 1013.8 29.4 1015.6C30.4 1017.3 30.6 1018.5 31.2 1020.9C31.8 1023.2 32.4 1027.0 32.9 1029.7C33.5 1032.3 34.4 1035.6 34.7 1036.8M29.4 1015.9C30.6 1016.0 34.0 1016.5 36.5 1016.5C39.0 1016.4 42.2 1015.9 44.4 1015.6C46.6 1015.3 48.8 1014.8 49.7 1014.7M90.3 948.2C90.7 948.4 91.8 947.9 92.9 949.4C94.1 950.9 96.0 954.6 97.3 957.3C98.7 960.1 100.0 962.9 100.9 966.2C101.8 969.4 102.3 973.2 102.6 976.8C103.0 980.3 103.5 984.1 103.2 987.3C102.9 990.6 101.6 993.2 100.9 996.2C100.2 999.1 99.3 1002.1 99.1 1005.0C99.0 1007.9 99.7 1010.6 100.0 1013.8C100.3 1017.0 100.6 1020.7 100.9 1024.4C101.1 1028.1 101.3 1034.0 101.4 1035.9M98.2 992.6C98.1 994.1 97.3 998.8 97.3 1001.5C97.3 1004.1 98.1 1007.3 98.2 1008.5M61.2 985.6C61.5 986.5 62.1 988.8 62.9 990.9C63.8 992.9 65.4 995.3 66.5 997.9C67.5 1000.6 68.4 1003.5 69.1 1006.8C69.8 1010.0 70.1 1013.8 70.9 1017.3C71.6 1020.9 72.6 1024.7 73.5 1027.9C74.4 1031.2 75.7 1035.3 76.2 1036.8"/>
<path class="red" style="stroke-width:1.6;stroke-linecap:round" d="M55.4 944.5C55.2 945.0 54.3 946.5 54.1 947.3C54.0 948.2 53.6 948.9 54.6 949.6C55.6 950.2 58.0 950.9 60.2 951.3C62.5 951.7 65.5 952.0 68.1 952.0C70.8 951.9 73.6 951.4 76.1 950.8C78.5 950.2 81.7 948.8 82.8 948.4"/>
<path class="red" style="stroke-width:1.2" d="M54.6 949.6L53.6 951.8"/>
<path class="red" style="stroke-width:1.8" d="M60.8 941.9L63.6 941.8M68.8 941.6L72.2 941.4"/>
<path class="red" style="stroke-width:1.2;stroke:#d77" d="M77.4 941.3L79.4 941.3"/>
<path class="k" d="M349.8 859.8C349.9 860.2 350.0 861.6 350.8 862.3C351.6 863.0 352.8 863.6 354.4 863.9C356.0 864.1 358.8 864.0 360.6 863.9C362.4 863.8 363.7 863.1 365.2 863.4C366.6 863.6 368.3 864.4 369.3 865.4C370.3 866.4 370.8 868.0 371.3 869.5C371.9 871.1 372.0 873.0 372.4 874.7C372.7 876.4 373.1 878.4 373.4 879.8C373.7 881.2 373.8 882.4 373.9 882.9M388.3 860.1C389.0 860.6 391.1 862.2 392.4 863.4C393.7 864.5 395.2 865.7 396.0 867.0C396.8 868.2 396.4 869.9 397.0 871.1C397.6 872.3 398.5 873.2 399.6 874.2C400.7 875.1 402.4 876.0 403.7 876.7C405.0 877.5 406.3 877.9 407.3 878.8C408.3 879.6 409.1 880.8 409.9 881.9C410.7 882.9 411.6 884.4 411.9 884.9M403.7 876.7C404.4 877.0 406.3 877.9 407.8 878.3C409.4 878.6 411.5 878.9 413.0 878.8C414.4 878.7 415.6 878.3 416.6 877.7C417.5 877.2 418.3 876.0 418.6 875.7M411.9 872.1C412.6 872.3 414.5 873.0 416.1 873.1C417.6 873.2 419.5 873.0 421.2 872.6C422.9 872.2 425.5 870.9 426.3 870.6M414.0 870.0C414.7 870.4 417.2 871.3 418.1 872.1C419.1 872.9 419.4 874.2 419.7 874.7"/>
<path class="k" style="stroke-width:0.8;stroke:#777" d="M363.6 862.3C364.7 862.1 367.8 861.3 369.8 860.8C371.8 860.3 374.5 859.5 375.5 859.2"/>
<path class="k" d="M374.0 883.5C373.1 884.4 370.5 887.0 368.5 889.0C366.6 890.9 364.3 893.2 362.2 895.3C360.1 897.4 358.0 899.7 355.8 901.6C353.7 903.6 351.3 905.4 349.5 907.1C347.7 908.7 345.5 910.1 345.0 911.6C344.4 913.1 345.3 914.8 346.2 916.1C347.1 917.5 349.4 918.6 350.4 919.8C351.4 921.0 351.6 921.7 352.2 923.4C352.8 925.1 353.1 927.2 354.0 929.7C354.9 932.3 356.3 936.1 357.7 938.8C359.0 941.5 361.3 943.9 362.2 946.0C363.1 948.2 363.2 949.4 363.1 951.5C362.9 953.6 361.5 956.0 361.3 958.7C361.1 961.5 361.2 964.8 361.8 967.8C362.4 970.8 363.8 974.1 364.9 976.9C366.0 979.6 367.8 982.2 368.5 984.1C369.2 986.0 369.0 987.4 369.1 988.1M352.2 923.4C353.3 923.2 356.4 922.8 358.6 922.5C360.7 922.2 363.1 921.9 364.9 921.6C366.7 921.3 368.7 920.8 369.4 920.7M369.1 980.5C368.8 982.0 368.5 986.5 367.6 989.5C366.8 992.6 364.7 995.6 364.0 998.6C363.3 1001.6 363.4 1004.3 363.6 1007.7C363.9 1011.0 364.6 1015.1 365.4 1018.5C366.3 1022.0 367.6 1025.5 368.5 1028.5C369.5 1031.5 370.8 1035.3 371.2 1036.7M410.2 883.5C411.0 884.4 413.5 886.7 414.7 889.0C415.9 891.2 417.0 894.6 417.5 897.1C417.9 899.7 417.9 902.0 417.5 904.4C417.0 906.8 415.5 909.5 414.7 911.6C414.0 913.7 413.2 916.1 412.9 917.1M412.0 906.2C411.9 907.4 411.0 911.3 411.1 913.4C411.3 915.5 412.4 916.8 412.9 918.9C413.5 921.0 414.1 923.1 414.4 926.1C414.7 929.1 414.7 933.4 414.7 937.0C414.7 940.6 414.6 944.5 414.4 947.9C414.1 951.2 413.7 954.2 413.3 956.9C412.9 959.6 412.2 963.0 412.0 964.2M413.3 963.3C414.3 964.3 417.4 967.3 419.3 969.6C421.2 971.9 423.2 974.3 424.7 976.9C426.2 979.4 427.6 982.3 428.3 985.0C429.0 987.7 429.3 990.6 428.9 993.2C428.4 995.7 427.2 998.5 425.6 1000.4C424.0 1002.4 421.1 1003.4 419.3 1004.9C417.5 1006.5 415.8 1007.5 414.7 1009.5C413.7 1011.4 413.4 1013.7 412.9 1016.7C412.5 1019.7 412.4 1024.3 412.0 1027.6C411.7 1030.9 411.0 1035.2 410.8 1036.7M379.4 904.4C379.9 904.2 381.2 902.6 382.1 903.5C383.0 904.4 383.9 906.9 384.8 909.8C385.7 912.7 386.6 917.4 387.6 920.7C388.5 924.0 389.3 927.0 390.3 929.7C391.2 932.5 392.7 934.6 393.4 937.0C394.0 939.4 394.6 941.5 394.4 944.2C394.3 947.0 393.5 950.0 392.6 953.3C391.8 956.6 390.5 960.2 389.4 964.2C388.2 968.1 386.9 972.9 385.7 976.9C384.6 980.8 383.5 984.1 382.5 987.7C381.4 991.4 379.9 996.8 379.4 998.6M412.0 964.2C411.6 965.4 410.5 968.9 409.3 971.4C408.1 974.0 406.4 976.9 404.8 979.6C403.1 982.3 400.8 985.2 399.3 987.7C397.8 990.3 396.6 992.9 395.7 995.0C394.8 997.1 394.2 999.5 393.9 1000.4M379.4 998.6C378.8 999.8 376.8 1003.6 375.8 1005.9C374.7 1008.1 373.1 1010.2 373.1 1012.2C373.1 1014.2 374.7 1016.1 375.8 1017.6C376.8 1019.1 378.0 1020.4 379.4 1021.3C380.8 1022.2 382.3 1023.1 383.9 1023.1C385.6 1023.1 387.7 1022.0 389.4 1021.3C391.0 1020.5 393.4 1019.7 393.9 1018.5C394.4 1017.3 392.2 1015.8 392.1 1014.0C391.9 1012.2 392.7 1009.6 393.0 1007.7C393.3 1005.7 393.7 1003.1 393.9 1002.2"/>
<path class="red" style="stroke-width:1.5;stroke-linecap:butt" d="M374.0 884.1L410.2 884.1M387.6 884.1L387.6 1000.1M375.8 1000.1L398.4 1000.1"/>
<path class="g" d="M694.3 901.2C693.8 900.9 692.5 900.2 691.6 899.7C690.7 899.2 689.9 898.8 688.9 898.2C688.0 897.6 686.8 897.0 685.9 896.2C684.9 895.5 684.0 894.6 683.2 893.8C682.4 892.9 681.6 891.9 680.9 890.9C680.2 890.0 679.5 889.0 679.0 888.1C678.5 887.3 678.1 886.4 678.0 885.7C677.9 884.9 678.4 884.2 678.2 883.6C678.1 882.9 677.3 882.4 677.3 881.8C677.2 881.2 677.9 880.6 677.7 880.1C677.6 879.5 676.4 878.9 676.3 878.3C676.2 877.6 676.8 876.9 677.1 876.2C677.3 875.5 677.6 874.7 677.9 874.1C678.1 873.4 678.1 872.5 678.5 872.2C678.8 871.8 679.3 871.8 679.8 872.0C680.2 872.1 680.7 872.8 681.3 872.9C681.9 872.9 683.0 872.7 683.6 872.3C684.2 871.9 684.5 871.3 685.1 870.6C685.7 869.9 686.3 868.9 687.0 868.1C687.7 867.3 688.6 866.6 689.3 866.0C690.1 865.4 690.8 864.9 691.6 864.6C692.4 864.2 693.6 864.4 694.3 864.0C694.9 863.7 694.8 863.0 695.4 862.5C696.1 862.0 697.1 861.4 698.1 861.1C699.1 860.7 700.3 860.5 701.5 860.5C702.7 860.5 704.1 860.7 705.4 861.1C706.6 861.4 708.0 861.9 709.2 862.5C710.4 863.1 711.5 863.8 712.6 864.6C713.7 865.3 714.7 866.2 715.7 867.0C716.6 867.9 717.5 868.7 718.3 869.5C719.1 870.3 720.0 872.1 720.6 872.0C721.3 871.8 721.6 869.0 722.1 868.8C722.7 868.6 723.2 870.1 723.7 870.9C724.2 871.7 724.8 872.8 725.2 873.7C725.6 874.7 726.1 875.6 726.3 876.5C726.6 877.5 726.9 878.5 726.7 879.3C726.6 880.2 725.6 881.0 725.6 881.8C725.6 882.6 726.6 883.5 726.6 884.3C726.5 885.0 725.2 885.6 725.2 886.4C725.2 887.2 726.6 888.4 726.7 889.2C726.9 890.0 726.5 890.3 726.0 890.9C725.5 891.6 724.4 892.4 723.7 893.1C722.9 893.7 722.3 894.2 721.4 894.8C720.5 895.4 719.3 896.0 718.3 896.6C717.3 897.2 716.2 897.8 715.3 898.3C714.3 898.9 713.4 899.3 712.6 899.7C711.8 900.2 710.7 900.8 710.3 901.0M694.3 901.2L710.3 901.0"/>
<path class="g" d="M694.6 901.2C694.5 902.1 694.5 905.2 694.1 906.6C693.7 908.1 692.3 909.2 691.9 909.7M709.3 901.2C709.4 902.2 709.2 905.7 709.6 907.1C710.1 908.5 711.7 909.3 712.1 909.7M691.9 909.7C690.9 910.2 688.2 911.5 686.0 912.4C683.9 913.3 681.2 914.2 679.0 915.2C676.9 916.1 674.6 916.9 672.8 918.0C671.1 919.0 669.8 920.1 668.7 921.7C667.5 923.3 666.8 924.5 666.2 927.6C665.6 930.6 665.4 935.1 665.1 940.0C664.7 944.9 664.3 951.4 664.0 957.1C663.7 962.7 663.1 968.7 663.1 974.1C663.0 979.6 663.1 984.5 663.5 989.6C663.9 994.8 665.2 1002.6 665.6 1005.2M712.1 909.7C713.2 910.1 716.4 911.0 718.6 911.8C720.9 912.5 723.4 913.3 725.6 914.4C727.8 915.5 729.7 916.7 731.8 918.3C733.9 919.8 735.7 921.5 738.0 923.7C740.3 925.9 743.1 928.6 745.8 931.5C748.5 934.3 751.3 937.7 754.3 940.8C757.3 943.9 760.9 947.4 763.6 950.1C766.3 952.8 769.4 955.9 770.6 957.1M770.6 957.1C769.7 958.2 767.6 961.5 765.2 964.0C762.7 966.6 759.2 969.6 755.9 972.6C752.5 975.5 748.4 979.0 745.0 981.9C741.6 984.7 738.1 987.7 735.7 989.6C733.2 991.6 731.2 992.9 730.3 993.5M732.3 935.3C733.1 936.0 735.2 937.4 737.2 939.2C739.2 941.0 742.0 944.1 744.2 946.2C746.4 948.3 748.7 950.1 750.4 951.6C752.1 953.2 753.7 954.9 754.3 955.5M754.3 955.5C753.7 956.5 752.1 959.3 750.4 961.7C748.7 964.2 746.4 967.5 744.2 970.2C742.0 973.0 739.3 976.1 737.2 978.0C735.2 979.9 732.7 981.0 731.8 981.6M732.3 935.3C731.7 936.8 730.1 940.8 728.7 943.9C727.3 947.0 725.4 950.5 724.0 954.0C722.7 957.4 721.3 961.8 720.5 964.8C719.7 967.8 719.2 969.7 719.4 971.8C719.6 973.9 720.4 975.8 721.7 977.2C723.0 978.7 725.5 979.9 727.1 980.6C728.8 981.4 731.0 981.4 731.8 981.6M675.9 938.4C676.3 940.3 677.4 945.7 678.3 949.3C679.2 952.9 680.4 956.9 681.4 960.2C682.4 963.4 683.9 966.2 684.2 968.7C684.5 971.2 684.0 972.8 683.2 974.9C682.5 977.0 680.6 978.9 679.5 981.1C678.4 983.3 677.2 986.9 676.7 988.1M676.7 988.1C676.3 989.5 674.8 993.8 673.9 996.6C673.1 999.5 672.1 1003.7 671.8 1005.2M676.4 943.1C676.5 945.7 676.7 953.4 676.7 958.6C676.7 963.8 676.4 970.0 676.4 974.1C676.5 978.3 676.9 981.9 677.0 983.4M723.3 978.8C723.8 980.1 725.3 983.7 726.4 986.5C727.4 989.4 728.7 992.7 729.5 995.8C730.3 999.0 730.8 1003.6 731.0 1005.2M715.5 974.9C716.3 975.5 718.4 977.7 720.2 978.8C722.0 979.8 725.3 980.7 726.4 981.1M717.8 974.1C718.7 974.5 721.7 975.7 723.3 976.5C724.8 977.2 726.5 978.4 727.1 978.8"/>
<path class="g2" d="M729.2 916.7C729.1 918.3 728.7 923.1 728.7 926.0C728.7 929.0 729.1 933.1 729.2 934.6M675.9 916.7C675.9 918.5 675.5 924.0 675.5 927.6C675.5 931.2 675.9 936.6 675.9 938.4"/>
<path class="red" style="stroke-width:1.8;stroke-linecap:butt" d="M731.8 915.9L771.1 956.3"/>
<path class="red" style="stroke-width:1.5;stroke-linecap:butt" d="M725.6 921.1L738.5 909.7M767.5 959.4L774.2 953.6"/>
</g>
<g shape-rendering="crispEdges">
<rect x="0" y="0" width="973" height="1" fill="#b4b4b4"/>
<rect x="0" y="0" width="1" height="1076" fill="#b4b4b4"/>
<rect x="972" y="0" width="1" height="1076" fill="#000"/>
<rect x="0" y="1075" width="973" height="1" fill="#000"/>
<rect x="0" y="28" width="973" height="1" fill="#000"/>
<rect x="0" y="606" width="973" height="1" fill="#000"/>
<rect x="0" y="641" width="973" height="1" fill="#000"/>
<rect x="0" y="239" width="973" height="1" fill="#000"/>
<rect x="0" y="399" width="973" height="1" fill="#000"/>
<rect x="0" y="840" width="973" height="1" fill="#000"/>
<rect x="133" y="28" width="1" height="578" fill="#000"/>
<rect x="133" y="641" width="1" height="434" fill="#000"/>
<rect x="320" y="28" width="1" height="578" fill="#000"/>
<rect x="320" y="641" width="1" height="434" fill="#000"/>
<rect x="453" y="28" width="1" height="578" fill="#000"/>
<rect x="453" y="641" width="1" height="434" fill="#000"/>
<rect x="649" y="28" width="1" height="578" fill="#000"/>
<rect x="649" y="641" width="1" height="434" fill="#000"/>
<rect x="782" y="28" width="1" height="578" fill="#000"/>
<rect x="782" y="641" width="1" height="434" fill="#000"/>
</g>
<g style="filter:grayscale(1)">
<text class="b" x="342.7" y="21.0" font-size="19.6" textLength="286.5" lengthAdjust="spacingAndGlyphs">Custom Measurements Form</text>
<text class="b" x="93.3" y="631.0" font-size="19.6" textLength="787.5" lengthAdjust="spacingAndGlyphs">Please offer below extra measurements for dresses with jacket/bolero or sleeves</text>
<text class="b" x="137.3" y="60.0" font-size="17.0" textLength="98.6" lengthAdjust="spacingAndGlyphs">Full Bust =?</text>
<text class="b" x="137.3" y="80.0" font-size="17.0" textLength="86.7" lengthAdjust="spacingAndGlyphs">cm/inches</text>
<text class="r" x="137.3" y="140.0" font-size="17.0" textLength="163.2" lengthAdjust="spacingAndGlyphs">Please measure around</text>
<text class="r" x="136.9" y="160.0" font-size="17.0" textLength="140.0" lengthAdjust="spacingAndGlyphs">bust at fullest point.</text>
<text class="b" x="457.3" y="60.0" font-size="17.0" textLength="119.0" lengthAdjust="spacingAndGlyphs">Upper bust = ?</text>
<text class="b" x="457.3" y="80.0" font-size="17.0" textLength="86.7" lengthAdjust="spacingAndGlyphs">cm/inches</text>
<text class="r" x="456.9" y="120.0" font-size="17.0" textLength="145.1" lengthAdjust="spacingAndGlyphs">Measure above your</text>
<text class="r" x="456.9" y="140.0" font-size="17.0" textLength="136.9" lengthAdjust="spacingAndGlyphs">breasts in the same</text>
<text class="r" x="456.9" y="160.0" font-size="17.0" textLength="177.2" lengthAdjust="spacingAndGlyphs">manner as you measured</text>
<text class="r" x="456.9" y="180.0" font-size="17.0" textLength="88.8" lengthAdjust="spacingAndGlyphs">across them.</text>
<text class="b" x="786.1" y="51.0" font-size="17.0" textLength="108.3" lengthAdjust="spacingAndGlyphs">Front Length</text>
<text class="b" x="786.1" y="71.0" font-size="17.0" textLength="174.0" lengthAdjust="spacingAndGlyphs">Shoulder to Waist= ?</text>
<text class="b" x="786.1" y="91.0" font-size="17.0" textLength="86.7" lengthAdjust="spacingAndGlyphs">cm/inches</text>
<text class="r" x="785.7" y="131.0" font-size="17.0" textLength="163.5" lengthAdjust="spacingAndGlyphs">measure from shoulder</text>
<text class="b" x="786.1" y="151.0" font-size="17.0" textLength="129.6" lengthAdjust="spacingAndGlyphs">OVER your bust</text>
<text class="r" x="785.7" y="171.0" font-size="17.0" textLength="142.0" lengthAdjust="spacingAndGlyphs">straight down to the</text>
<text class="r" x="785.7" y="191.0" font-size="17.0" textLength="149.2" lengthAdjust="spacingAndGlyphs">ribbon on your waist.</text>
<text class="b" x="137.3" y="256.0" font-size="17.0" textLength="167.5" lengthAdjust="spacingAndGlyphs">Waist = ? cm/inches</text>
<text class="r" x="136.9" y="296.0" font-size="17.0" textLength="143.0" lengthAdjust="spacingAndGlyphs">Measure around the</text>
<text class="r" x="136.9" y="316.0" font-size="17.0" textLength="150.2" lengthAdjust="spacingAndGlyphs">waist about 3 or 4 cm</text>
<text class="r" x="136.9" y="336.0" font-size="17.0" textLength="162.1" lengthAdjust="spacingAndGlyphs">above the belly button.</text>
<text class="b" x="457.3" y="256.0" font-size="17.0" textLength="119.0" lengthAdjust="spacingAndGlyphs">Under bust = ?</text>
<text class="b" x="457.3" y="276.0" font-size="17.0" textLength="86.7" lengthAdjust="spacingAndGlyphs">cm/inches</text>
<text class="r" x="456.9" y="316.0" font-size="17.0" textLength="145.1" lengthAdjust="spacingAndGlyphs">Measure under your</text>
<text class="r" x="456.9" y="336.0" font-size="17.0" textLength="136.9" lengthAdjust="spacingAndGlyphs">breasts in the same</text>
<text class="r" x="456.9" y="356.0" font-size="17.0" textLength="177.2" lengthAdjust="spacingAndGlyphs">manner as you measured</text>
<text class="r" x="456.9" y="376.0" font-size="17.0" textLength="76.8" lengthAdjust="spacingAndGlyphs">over them.</text>
<text class="b" x="786.1" y="256.0" font-size="17.0" textLength="108.7" lengthAdjust="spacingAndGlyphs">Outer Leg = ?</text>
<text class="b" x="786.1" y="276.0" font-size="17.0" textLength="86.7" lengthAdjust="spacingAndGlyphs">cm/inches</text>
<text class="r" x="786.1" y="316.0" font-size="17.0" textLength="182.3" lengthAdjust="spacingAndGlyphs">From waist to floor WITH</text>
<text class="r" x="785.7" y="336.0" font-size="17.0" textLength="101.3" lengthAdjust="spacingAndGlyphs">your shoes on.</text>
<text class="b" x="137.3" y="439.0" font-size="17.0" textLength="157.6" lengthAdjust="spacingAndGlyphs">Hips = ? cm/inches</text>
<text class="r" x="136.9" y="499.0" font-size="17.0" textLength="166.3" lengthAdjust="spacingAndGlyphs">Measure around hips at</text>
<text class="r" x="136.9" y="519.0" font-size="17.0" textLength="157.0" lengthAdjust="spacingAndGlyphs">widest and fullest part</text>
<text class="b" x="457.3" y="429.0" font-size="17.0" textLength="167.3" lengthAdjust="spacingAndGlyphs">Should to Nipple = ?</text>
<text class="b" x="457.3" y="449.0" font-size="17.0" textLength="86.7" lengthAdjust="spacingAndGlyphs">cm/inches</text>
<text class="r" x="456.9" y="489.0" font-size="17.0" textLength="170.8" lengthAdjust="spacingAndGlyphs">Measure from the top of</text>
<text class="r" x="456.9" y="509.0" font-size="17.0" textLength="158.0" lengthAdjust="spacingAndGlyphs">your shoulder down to</text>
<text class="r" x="456.9" y="529.0" font-size="17.0" textLength="134.0" lengthAdjust="spacingAndGlyphs">bust point (nipple).</text>
<text class="b" x="786.1" y="416.0" font-size="17.0" textLength="79.3" lengthAdjust="spacingAndGlyphs">Hollow to</text>
<text class="b" x="786.1" y="436.0" font-size="17.0" textLength="145.7" lengthAdjust="spacingAndGlyphs">Hem=?cm/inches</text>
<text class="r" x="786.1" y="476.0" font-size="17.0" textLength="168.3" lengthAdjust="spacingAndGlyphs">For long dress, measure</text>
<text class="r" x="785.7" y="496.0" font-size="17.0" textLength="99.4" lengthAdjust="spacingAndGlyphs">from shoulder</text>
<text class="b" x="889.0" y="496.0" font-size="17.0" textLength="48.3" lengthAdjust="spacingAndGlyphs">OVER</text>
<text class="b" x="786.1" y="516.0" font-size="17.0" textLength="35.1" lengthAdjust="spacingAndGlyphs">bust</text>
<text class="r" x="825.5" y="516.0" font-size="17.0" textLength="49.7" lengthAdjust="spacingAndGlyphs">to floor</text>
<text class="r" x="786.1" y="556.0" font-size="17.0" textLength="176.1" lengthAdjust="spacingAndGlyphs">For short dress, measure</text>
<text class="r" x="785.7" y="576.0" font-size="17.0" textLength="99.4" lengthAdjust="spacingAndGlyphs">from shoulder</text>
<text class="b" x="889.0" y="576.0" font-size="17.0" textLength="48.3" lengthAdjust="spacingAndGlyphs">OVER</text>
<text class="b" x="786.1" y="596.0" font-size="17.0" textLength="35.1" lengthAdjust="spacingAndGlyphs">bust</text>
<text class="r" x="825.5" y="596.0" font-size="17.0" textLength="135.0" lengthAdjust="spacingAndGlyphs">to hem of the dress</text>
<text class="b" x="137.3" y="678.0" font-size="17.0" textLength="176.8" lengthAdjust="spacingAndGlyphs">Shoulder to Shoulder</text>
<text class="b" x="137.3" y="698.0" font-size="17.0" textLength="110.4" lengthAdjust="spacingAndGlyphs">=? cm/inches</text>
<text class="r" x="137.3" y="738.0" font-size="17.0" textLength="151.9" lengthAdjust="spacingAndGlyphs">From the edge of that</text>
<text class="r" x="136.5" y="758.0" font-size="17.0" textLength="175.3" lengthAdjust="spacingAndGlyphs">shoulder socket,measure</text>
<text class="r" x="136.5" y="778.0" font-size="17.0" textLength="157.4" lengthAdjust="spacingAndGlyphs">all the way over to the</text>
<text class="r" x="136.5" y="798.0" font-size="17.0" textLength="166.7" lengthAdjust="spacingAndGlyphs">same point on the other</text>
<text class="r" x="136.5" y="818.0" font-size="17.0" textLength="170.8" lengthAdjust="spacingAndGlyphs">shoulder along the back.</text>
<text class="b" x="456.9" y="678.0" font-size="17.0" textLength="186.2" lengthAdjust="spacingAndGlyphs">Arms eye=? cm/inches</text>
<text class="r" x="457.7" y="718.0" font-size="17.0" textLength="170.6" lengthAdjust="spacingAndGlyphs">The sleeve hole size that</text>
<text class="r" x="456.9" y="738.0" font-size="17.0" textLength="140.6" lengthAdjust="spacingAndGlyphs">you are comfortable</text>
<text class="r" x="456.9" y="758.0" font-size="17.0" textLength="150.2" lengthAdjust="spacingAndGlyphs">wearing. It is entirely</text>
<text class="r" x="456.5" y="778.0" font-size="17.0" textLength="158.4" lengthAdjust="spacingAndGlyphs">subjective and you can</text>
<text class="r" x="456.5" y="798.0" font-size="17.0" textLength="185.2" lengthAdjust="spacingAndGlyphs">make it as deep or as tight</text>
<text class="r" x="456.5" y="818.0" font-size="17.0" textLength="160.1" lengthAdjust="spacingAndGlyphs">as you are comfortable</text>
<text class="r" x="456.9" y="838.0" font-size="17.0" textLength="30.6" lengthAdjust="spacingAndGlyphs">with</text>
<text class="b" x="786.1" y="677.0" font-size="17.0" textLength="164.6" lengthAdjust="spacingAndGlyphs">Bicep = ? cm/inches</text>
<text class="r" x="786.1" y="737.0" font-size="17.0" textLength="166.2" lengthAdjust="spacingAndGlyphs">Measure around arm at</text>
<text class="r" x="785.7" y="757.0" font-size="17.0" textLength="176.9" lengthAdjust="spacingAndGlyphs">fullest part of upper arm.</text>
<text class="b" x="137.3" y="884.0" font-size="17.0" textLength="159.3" lengthAdjust="spacingAndGlyphs">Neck = ? cm/inches</text>
<text class="r" x="136.9" y="924.0" font-size="17.0" textLength="151.9" lengthAdjust="spacingAndGlyphs">Measure around neck</text>
<text class="r" x="136.5" y="944.0" font-size="17.0" textLength="176.9" lengthAdjust="spacingAndGlyphs">loosely. You will not need</text>
<text class="r" x="136.5" y="964.0" font-size="17.0" textLength="139.9" lengthAdjust="spacingAndGlyphs">this one unless your</text>
<text class="r" x="136.5" y="984.0" font-size="17.0" textLength="170.8" lengthAdjust="spacingAndGlyphs">garment has a high neck</text>
<text class="r" x="136.5" y="1004.0" font-size="17.0" textLength="90.6" lengthAdjust="spacingAndGlyphs">and/or collar</text>
<text class="b" x="457.2" y="855.0" font-size="17.0" textLength="133.3" lengthAdjust="spacingAndGlyphs">Sleeve Length=?</text>
<text class="b" x="457.2" y="875.0" font-size="17.0" textLength="86.7" lengthAdjust="spacingAndGlyphs">cm/inches</text>
<text class="b" x="457.2" y="915.0" font-size="17.0" textLength="74.5" lengthAdjust="spacingAndGlyphs">For Long</text>
<text class="b" x="457.2" y="935.0" font-size="17.0" textLength="55.7" lengthAdjust="spacingAndGlyphs">Sleeve,</text>
<text class="r" x="512.7" y="935.0" font-size="17.0" textLength="99.6" lengthAdjust="spacingAndGlyphs">Measure from</text>
<text class="r" x="456.3" y="955.0" font-size="17.0" textLength="179.0" lengthAdjust="spacingAndGlyphs">shoulder to wrist through</text>
<text class="r" x="456.8" y="975.0" font-size="17.0" textLength="76.6" lengthAdjust="spacingAndGlyphs">your elbow</text>
<text class="b" x="457.2" y="1015.0" font-size="17.0" textLength="134.3" lengthAdjust="spacingAndGlyphs">For short sleeve,</text>
<text class="r" x="456.3" y="1035.0" font-size="17.0" textLength="182.2" lengthAdjust="spacingAndGlyphs">measure from shoulder to</text>
<text class="r" x="456.8" y="1055.0" font-size="17.0" textLength="123.0" lengthAdjust="spacingAndGlyphs">hem of the sleeve</text>
<text class="b" x="786.1" y="874.0" font-size="17.0" textLength="169.7" lengthAdjust="spacingAndGlyphs">Upper arm length =?</text>
<text class="b" x="786.1" y="894.0" font-size="17.0" textLength="86.7" lengthAdjust="spacingAndGlyphs">cm/inches</text>
<text class="r" x="786.1" y="974.0" font-size="17.0" textLength="141.2" lengthAdjust="spacingAndGlyphs">Measure from outer</text>
<text class="r" x="785.2" y="994.0" font-size="17.0" textLength="165.5" lengthAdjust="spacingAndGlyphs">shoulder down to elbow</text>
</g>
</svg></body></html>
